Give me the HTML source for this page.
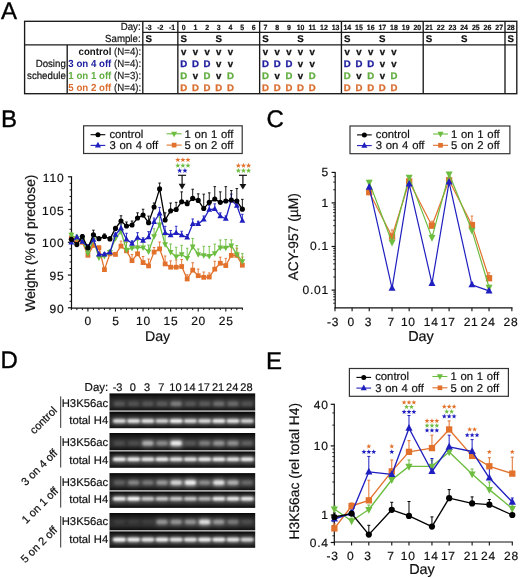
<!DOCTYPE html>
<html><head><meta charset="utf-8"><style>
html,body{margin:0;padding:0;background:#fff;}
svg{display:block;filter:blur(0.35px);}
</style></head><body>
<svg text-rendering="geometricPrecision" width="520" height="578" viewBox="0 0 520 578" font-family='"Liberation Sans", sans-serif'>
<rect width="520" height="578" fill="#fff"/>
<text x="0.9" y="18.5" font-size="24" fill="#000" stroke="#000" stroke-width="0.35">A</text>
<text x="1" y="127.1" font-size="24" fill="#000" stroke="#000" stroke-width="0.35">B</text>
<text x="266.4" y="126.9" font-size="24" fill="#000" stroke="#000" stroke-width="0.35">C</text>
<text x="0.6" y="368" font-size="24" fill="#000" stroke="#000" stroke-width="0.35">D</text>
<text x="266.1" y="368.5" font-size="24" fill="#000" stroke="#000" stroke-width="0.35">E</text>
<rect x="24.6" y="21.3" width="492.2" height="72.4" fill="none" stroke="#1a1a1a" stroke-width="1.35"/>
<line x1="24.6" y1="44.9" x2="516.8" y2="44.9" stroke="#1a1a1a" stroke-width="1.35"/>
<line x1="142.8" y1="32.3" x2="516.8" y2="32.3" stroke="#1a1a1a" stroke-width="1.35"/>
<line x1="67.2" y1="44.9" x2="67.2" y2="93.7" stroke="#1a1a1a" stroke-width="1.35"/>
<line x1="142.8" y1="21.3" x2="142.8" y2="93.7" stroke="#1a1a1a" stroke-width="1.35"/>
<line x1="177.85" y1="21.3" x2="177.85" y2="93.7" stroke="#1a1a1a" stroke-width="1.35"/>
<line x1="259.64" y1="21.3" x2="259.64" y2="93.7" stroke="#1a1a1a" stroke-width="1.35"/>
<line x1="341.43" y1="21.3" x2="341.43" y2="93.7" stroke="#1a1a1a" stroke-width="1.35"/>
<line x1="423.21" y1="21.3" x2="423.21" y2="93.7" stroke="#1a1a1a" stroke-width="1.35"/>
<line x1="505" y1="21.3" x2="505" y2="93.7" stroke="#1a1a1a" stroke-width="1.35"/>
<text transform="translate(148.64,29.9) scale(0.93,1)" font-size="7.5" text-anchor="middle" font-weight="bold" fill="#111" stroke="#111" stroke-width="0.2">-3</text>
<text transform="translate(160.33,29.9) scale(0.93,1)" font-size="7.5" text-anchor="middle" font-weight="bold" fill="#111" stroke="#111" stroke-width="0.2">-2</text>
<text transform="translate(172.01,29.9) scale(0.93,1)" font-size="7.5" text-anchor="middle" font-weight="bold" fill="#111" stroke="#111" stroke-width="0.2">-1</text>
<text transform="translate(183.69,29.9) scale(0.93,1)" font-size="7.5" text-anchor="middle" font-weight="bold" fill="#111" stroke="#111" stroke-width="0.2">0</text>
<text transform="translate(195.38,29.9) scale(0.93,1)" font-size="7.5" text-anchor="middle" font-weight="bold" fill="#111" stroke="#111" stroke-width="0.2">1</text>
<text transform="translate(207.06,29.9) scale(0.93,1)" font-size="7.5" text-anchor="middle" font-weight="bold" fill="#111" stroke="#111" stroke-width="0.2">2</text>
<text transform="translate(218.75,29.9) scale(0.93,1)" font-size="7.5" text-anchor="middle" font-weight="bold" fill="#111" stroke="#111" stroke-width="0.2">3</text>
<text transform="translate(230.43,29.9) scale(0.93,1)" font-size="7.5" text-anchor="middle" font-weight="bold" fill="#111" stroke="#111" stroke-width="0.2">4</text>
<text transform="translate(242.11,29.9) scale(0.93,1)" font-size="7.5" text-anchor="middle" font-weight="bold" fill="#111" stroke="#111" stroke-width="0.2">5</text>
<text transform="translate(253.8,29.9) scale(0.93,1)" font-size="7.5" text-anchor="middle" font-weight="bold" fill="#111" stroke="#111" stroke-width="0.2">6</text>
<text transform="translate(265.48,29.9) scale(0.93,1)" font-size="7.5" text-anchor="middle" font-weight="bold" fill="#111" stroke="#111" stroke-width="0.2">7</text>
<text transform="translate(277.16,29.9) scale(0.93,1)" font-size="7.5" text-anchor="middle" font-weight="bold" fill="#111" stroke="#111" stroke-width="0.2">8</text>
<text transform="translate(288.85,29.9) scale(0.93,1)" font-size="7.5" text-anchor="middle" font-weight="bold" fill="#111" stroke="#111" stroke-width="0.2">9</text>
<text transform="translate(300.53,29.9) scale(0.93,1)" font-size="7.5" text-anchor="middle" font-weight="bold" fill="#111" stroke="#111" stroke-width="0.2">10</text>
<text transform="translate(312.22,29.9) scale(0.93,1)" font-size="7.5" text-anchor="middle" font-weight="bold" fill="#111" stroke="#111" stroke-width="0.2">11</text>
<text transform="translate(323.9,29.9) scale(0.93,1)" font-size="7.5" text-anchor="middle" font-weight="bold" fill="#111" stroke="#111" stroke-width="0.2">12</text>
<text transform="translate(335.58,29.9) scale(0.93,1)" font-size="7.5" text-anchor="middle" font-weight="bold" fill="#111" stroke="#111" stroke-width="0.2">13</text>
<text transform="translate(347.27,29.9) scale(0.93,1)" font-size="7.5" text-anchor="middle" font-weight="bold" fill="#111" stroke="#111" stroke-width="0.2">14</text>
<text transform="translate(358.95,29.9) scale(0.93,1)" font-size="7.5" text-anchor="middle" font-weight="bold" fill="#111" stroke="#111" stroke-width="0.2">15</text>
<text transform="translate(370.64,29.9) scale(0.93,1)" font-size="7.5" text-anchor="middle" font-weight="bold" fill="#111" stroke="#111" stroke-width="0.2">16</text>
<text transform="translate(382.32,29.9) scale(0.93,1)" font-size="7.5" text-anchor="middle" font-weight="bold" fill="#111" stroke="#111" stroke-width="0.2">17</text>
<text transform="translate(394,29.9) scale(0.93,1)" font-size="7.5" text-anchor="middle" font-weight="bold" fill="#111" stroke="#111" stroke-width="0.2">18</text>
<text transform="translate(405.69,29.9) scale(0.93,1)" font-size="7.5" text-anchor="middle" font-weight="bold" fill="#111" stroke="#111" stroke-width="0.2">19</text>
<text transform="translate(417.37,29.9) scale(0.93,1)" font-size="7.5" text-anchor="middle" font-weight="bold" fill="#111" stroke="#111" stroke-width="0.2">20</text>
<text transform="translate(429.05,29.9) scale(0.93,1)" font-size="7.5" text-anchor="middle" font-weight="bold" fill="#111" stroke="#111" stroke-width="0.2">21</text>
<text transform="translate(440.74,29.9) scale(0.93,1)" font-size="7.5" text-anchor="middle" font-weight="bold" fill="#111" stroke="#111" stroke-width="0.2">22</text>
<text transform="translate(452.42,29.9) scale(0.93,1)" font-size="7.5" text-anchor="middle" font-weight="bold" fill="#111" stroke="#111" stroke-width="0.2">23</text>
<text transform="translate(464.11,29.9) scale(0.93,1)" font-size="7.5" text-anchor="middle" font-weight="bold" fill="#111" stroke="#111" stroke-width="0.2">24</text>
<text transform="translate(475.79,29.9) scale(0.93,1)" font-size="7.5" text-anchor="middle" font-weight="bold" fill="#111" stroke="#111" stroke-width="0.2">25</text>
<text transform="translate(487.47,29.9) scale(0.93,1)" font-size="7.5" text-anchor="middle" font-weight="bold" fill="#111" stroke="#111" stroke-width="0.2">26</text>
<text transform="translate(499.16,29.9) scale(0.93,1)" font-size="7.5" text-anchor="middle" font-weight="bold" fill="#111" stroke="#111" stroke-width="0.2">27</text>
<text transform="translate(510.84,29.9) scale(0.93,1)" font-size="7.5" text-anchor="middle" font-weight="bold" fill="#111" stroke="#111" stroke-width="0.2">28</text>
<text x="148.64" y="42.4" font-size="9.7" text-anchor="middle" font-weight="bold" fill="#111" stroke="#111" stroke-width="0.25">S</text>
<text x="183.69" y="42.4" font-size="9.7" text-anchor="middle" font-weight="bold" fill="#111" stroke="#111" stroke-width="0.25">S</text>
<text x="218.75" y="42.4" font-size="9.7" text-anchor="middle" font-weight="bold" fill="#111" stroke="#111" stroke-width="0.25">S</text>
<text x="265.48" y="42.4" font-size="9.7" text-anchor="middle" font-weight="bold" fill="#111" stroke="#111" stroke-width="0.25">S</text>
<text x="300.53" y="42.4" font-size="9.7" text-anchor="middle" font-weight="bold" fill="#111" stroke="#111" stroke-width="0.25">S</text>
<text x="347.27" y="42.4" font-size="9.7" text-anchor="middle" font-weight="bold" fill="#111" stroke="#111" stroke-width="0.25">S</text>
<text x="382.32" y="42.4" font-size="9.7" text-anchor="middle" font-weight="bold" fill="#111" stroke="#111" stroke-width="0.25">S</text>
<text x="429.05" y="42.4" font-size="9.7" text-anchor="middle" font-weight="bold" fill="#111" stroke="#111" stroke-width="0.25">S</text>
<text x="464.11" y="42.4" font-size="9.7" text-anchor="middle" font-weight="bold" fill="#111" stroke="#111" stroke-width="0.25">S</text>
<text x="510.84" y="42.4" font-size="9.7" text-anchor="middle" font-weight="bold" fill="#111" stroke="#111" stroke-width="0.25">S</text>
<text transform="translate(140.6,30.2) scale(0.94,1)" font-size="10.3" text-anchor="end" fill="#111"  stroke="#111" stroke-width="0.2">Day:</text>
<text transform="translate(140.6,42.3) scale(0.94,1)" font-size="10.3" text-anchor="end" fill="#111"  stroke="#111" stroke-width="0.2">Sample:</text>
<text transform="translate(65.8,67) scale(0.94,1)" font-size="10.3" text-anchor="end" fill="#111"  stroke="#111" stroke-width="0.2">Dosing</text>
<text transform="translate(65.8,78.6) scale(0.94,1)" font-size="10.3" text-anchor="end" fill="#111"  stroke="#111" stroke-width="0.2">schedule</text>
<text transform="translate(141.2,55.1) scale(0.94,1)" font-size="10.3" text-anchor="end" fill="#222" stroke="#222" stroke-width="0.2"><tspan font-weight="bold" fill="#111" stroke="none">control</tspan> (N=4):</text>
<text transform="translate(141.2,66.8) scale(0.94,1)" font-size="10.3" text-anchor="end" fill="#222" stroke="#222" stroke-width="0.2"><tspan font-weight="bold" fill="#2020a0" stroke="none">3 on 4 off</tspan> (N=4):</text>
<text transform="translate(141.2,78.6) scale(0.94,1)" font-size="10.3" text-anchor="end" fill="#222" stroke="#222" stroke-width="0.2"><tspan font-weight="bold" fill="#62ad40" stroke="none">1 on 1 off</tspan> (N=3):</text>
<text transform="translate(141.2,90.5) scale(0.94,1)" font-size="10.3" text-anchor="end" fill="#222" stroke="#222" stroke-width="0.2"><tspan font-weight="bold" fill="#da6e30" stroke="none">5 on 2 off</tspan> (N=4):</text>
<text x="183.69" y="55.3" font-size="9.6" text-anchor="middle" font-weight="bold" fill="#111" stroke="#111" stroke-width="0.3">v</text>
<text x="195.38" y="55.3" font-size="9.6" text-anchor="middle" font-weight="bold" fill="#111" stroke="#111" stroke-width="0.3">v</text>
<text x="207.06" y="55.3" font-size="9.6" text-anchor="middle" font-weight="bold" fill="#111" stroke="#111" stroke-width="0.3">v</text>
<text x="218.75" y="55.3" font-size="9.6" text-anchor="middle" font-weight="bold" fill="#111" stroke="#111" stroke-width="0.3">v</text>
<text x="230.43" y="55.3" font-size="9.6" text-anchor="middle" font-weight="bold" fill="#111" stroke="#111" stroke-width="0.3">v</text>
<text x="265.48" y="55.3" font-size="9.6" text-anchor="middle" font-weight="bold" fill="#111" stroke="#111" stroke-width="0.3">v</text>
<text x="277.16" y="55.3" font-size="9.6" text-anchor="middle" font-weight="bold" fill="#111" stroke="#111" stroke-width="0.3">v</text>
<text x="288.85" y="55.3" font-size="9.6" text-anchor="middle" font-weight="bold" fill="#111" stroke="#111" stroke-width="0.3">v</text>
<text x="300.53" y="55.3" font-size="9.6" text-anchor="middle" font-weight="bold" fill="#111" stroke="#111" stroke-width="0.3">v</text>
<text x="312.22" y="55.3" font-size="9.6" text-anchor="middle" font-weight="bold" fill="#111" stroke="#111" stroke-width="0.3">v</text>
<text x="347.27" y="55.3" font-size="9.6" text-anchor="middle" font-weight="bold" fill="#111" stroke="#111" stroke-width="0.3">v</text>
<text x="358.95" y="55.3" font-size="9.6" text-anchor="middle" font-weight="bold" fill="#111" stroke="#111" stroke-width="0.3">v</text>
<text x="370.64" y="55.3" font-size="9.6" text-anchor="middle" font-weight="bold" fill="#111" stroke="#111" stroke-width="0.3">v</text>
<text x="382.32" y="55.3" font-size="9.6" text-anchor="middle" font-weight="bold" fill="#111" stroke="#111" stroke-width="0.3">v</text>
<text x="394" y="55.3" font-size="9.6" text-anchor="middle" font-weight="bold" fill="#111" stroke="#111" stroke-width="0.3">v</text>
<text x="183.69" y="67" font-size="9.6" text-anchor="middle" font-weight="bold" fill="#2020a0" stroke="#2020a0" stroke-width="0.3">D</text>
<text x="195.38" y="67" font-size="9.6" text-anchor="middle" font-weight="bold" fill="#2020a0" stroke="#2020a0" stroke-width="0.3">D</text>
<text x="207.06" y="67" font-size="9.6" text-anchor="middle" font-weight="bold" fill="#2020a0" stroke="#2020a0" stroke-width="0.3">D</text>
<text x="218.75" y="67" font-size="9.6" text-anchor="middle" font-weight="bold" fill="#111" stroke="#111" stroke-width="0.3">v</text>
<text x="230.43" y="67" font-size="9.6" text-anchor="middle" font-weight="bold" fill="#111" stroke="#111" stroke-width="0.3">v</text>
<text x="265.48" y="67" font-size="9.6" text-anchor="middle" font-weight="bold" fill="#2020a0" stroke="#2020a0" stroke-width="0.3">D</text>
<text x="277.16" y="67" font-size="9.6" text-anchor="middle" font-weight="bold" fill="#2020a0" stroke="#2020a0" stroke-width="0.3">D</text>
<text x="288.85" y="67" font-size="9.6" text-anchor="middle" font-weight="bold" fill="#2020a0" stroke="#2020a0" stroke-width="0.3">D</text>
<text x="300.53" y="67" font-size="9.6" text-anchor="middle" font-weight="bold" fill="#111" stroke="#111" stroke-width="0.3">v</text>
<text x="312.22" y="67" font-size="9.6" text-anchor="middle" font-weight="bold" fill="#111" stroke="#111" stroke-width="0.3">v</text>
<text x="347.27" y="67" font-size="9.6" text-anchor="middle" font-weight="bold" fill="#2020a0" stroke="#2020a0" stroke-width="0.3">D</text>
<text x="358.95" y="67" font-size="9.6" text-anchor="middle" font-weight="bold" fill="#2020a0" stroke="#2020a0" stroke-width="0.3">D</text>
<text x="370.64" y="67" font-size="9.6" text-anchor="middle" font-weight="bold" fill="#2020a0" stroke="#2020a0" stroke-width="0.3">D</text>
<text x="382.32" y="67" font-size="9.6" text-anchor="middle" font-weight="bold" fill="#111" stroke="#111" stroke-width="0.3">v</text>
<text x="394" y="67" font-size="9.6" text-anchor="middle" font-weight="bold" fill="#111" stroke="#111" stroke-width="0.3">v</text>
<text x="183.69" y="78.8" font-size="9.6" text-anchor="middle" font-weight="bold" fill="#62ad40" stroke="#62ad40" stroke-width="0.3">D</text>
<text x="195.38" y="78.8" font-size="9.6" text-anchor="middle" font-weight="bold" fill="#111" stroke="#111" stroke-width="0.3">v</text>
<text x="207.06" y="78.8" font-size="9.6" text-anchor="middle" font-weight="bold" fill="#62ad40" stroke="#62ad40" stroke-width="0.3">D</text>
<text x="218.75" y="78.8" font-size="9.6" text-anchor="middle" font-weight="bold" fill="#111" stroke="#111" stroke-width="0.3">v</text>
<text x="230.43" y="78.8" font-size="9.6" text-anchor="middle" font-weight="bold" fill="#62ad40" stroke="#62ad40" stroke-width="0.3">D</text>
<text x="265.48" y="78.8" font-size="9.6" text-anchor="middle" font-weight="bold" fill="#62ad40" stroke="#62ad40" stroke-width="0.3">D</text>
<text x="277.16" y="78.8" font-size="9.6" text-anchor="middle" font-weight="bold" fill="#111" stroke="#111" stroke-width="0.3">v</text>
<text x="288.85" y="78.8" font-size="9.6" text-anchor="middle" font-weight="bold" fill="#62ad40" stroke="#62ad40" stroke-width="0.3">D</text>
<text x="300.53" y="78.8" font-size="9.6" text-anchor="middle" font-weight="bold" fill="#111" stroke="#111" stroke-width="0.3">v</text>
<text x="312.22" y="78.8" font-size="9.6" text-anchor="middle" font-weight="bold" fill="#62ad40" stroke="#62ad40" stroke-width="0.3">D</text>
<text x="347.27" y="78.8" font-size="9.6" text-anchor="middle" font-weight="bold" fill="#62ad40" stroke="#62ad40" stroke-width="0.3">D</text>
<text x="358.95" y="78.8" font-size="9.6" text-anchor="middle" font-weight="bold" fill="#111" stroke="#111" stroke-width="0.3">v</text>
<text x="370.64" y="78.8" font-size="9.6" text-anchor="middle" font-weight="bold" fill="#62ad40" stroke="#62ad40" stroke-width="0.3">D</text>
<text x="382.32" y="78.8" font-size="9.6" text-anchor="middle" font-weight="bold" fill="#111" stroke="#111" stroke-width="0.3">v</text>
<text x="394" y="78.8" font-size="9.6" text-anchor="middle" font-weight="bold" fill="#62ad40" stroke="#62ad40" stroke-width="0.3">D</text>
<text x="183.69" y="90.7" font-size="9.6" text-anchor="middle" font-weight="bold" fill="#da6e30" stroke="#da6e30" stroke-width="0.3">D</text>
<text x="195.38" y="90.7" font-size="9.6" text-anchor="middle" font-weight="bold" fill="#da6e30" stroke="#da6e30" stroke-width="0.3">D</text>
<text x="207.06" y="90.7" font-size="9.6" text-anchor="middle" font-weight="bold" fill="#da6e30" stroke="#da6e30" stroke-width="0.3">D</text>
<text x="218.75" y="90.7" font-size="9.6" text-anchor="middle" font-weight="bold" fill="#da6e30" stroke="#da6e30" stroke-width="0.3">D</text>
<text x="230.43" y="90.7" font-size="9.6" text-anchor="middle" font-weight="bold" fill="#da6e30" stroke="#da6e30" stroke-width="0.3">D</text>
<text x="265.48" y="90.7" font-size="9.6" text-anchor="middle" font-weight="bold" fill="#da6e30" stroke="#da6e30" stroke-width="0.3">D</text>
<text x="277.16" y="90.7" font-size="9.6" text-anchor="middle" font-weight="bold" fill="#da6e30" stroke="#da6e30" stroke-width="0.3">D</text>
<text x="288.85" y="90.7" font-size="9.6" text-anchor="middle" font-weight="bold" fill="#da6e30" stroke="#da6e30" stroke-width="0.3">D</text>
<text x="300.53" y="90.7" font-size="9.6" text-anchor="middle" font-weight="bold" fill="#da6e30" stroke="#da6e30" stroke-width="0.3">D</text>
<text x="312.22" y="90.7" font-size="9.6" text-anchor="middle" font-weight="bold" fill="#da6e30" stroke="#da6e30" stroke-width="0.3">D</text>
<text x="347.27" y="90.7" font-size="9.6" text-anchor="middle" font-weight="bold" fill="#da6e30" stroke="#da6e30" stroke-width="0.3">D</text>
<text x="358.95" y="90.7" font-size="9.6" text-anchor="middle" font-weight="bold" fill="#da6e30" stroke="#da6e30" stroke-width="0.3">D</text>
<text x="370.64" y="90.7" font-size="9.6" text-anchor="middle" font-weight="bold" fill="#da6e30" stroke="#da6e30" stroke-width="0.3">D</text>
<text x="382.32" y="90.7" font-size="9.6" text-anchor="middle" font-weight="bold" fill="#da6e30" stroke="#da6e30" stroke-width="0.3">D</text>
<text x="394" y="90.7" font-size="9.6" text-anchor="middle" font-weight="bold" fill="#da6e30" stroke="#da6e30" stroke-width="0.3">D</text>
<line x1="71.5" y1="176.3" x2="71.5" y2="308.6" stroke="#111" stroke-width="1.2"/>
<line x1="70.9" y1="308.1" x2="242.9" y2="308.1" stroke="#111" stroke-width="1.2"/>
<line x1="67.9" y1="307.8" x2="71.5" y2="307.8" stroke="#111" stroke-width="1.2"/>
<text x="64.4" y="312.9" font-size="12" text-anchor="end" fill="#111" letter-spacing="0.8" stroke="#111" stroke-width="0.2">90</text>
<line x1="69.6" y1="301.25" x2="71.5" y2="301.25" stroke="#111" stroke-width="1.0"/>
<line x1="69.6" y1="294.7" x2="71.5" y2="294.7" stroke="#111" stroke-width="1.0"/>
<line x1="69.6" y1="288.15" x2="71.5" y2="288.15" stroke="#111" stroke-width="1.0"/>
<line x1="69.6" y1="281.6" x2="71.5" y2="281.6" stroke="#111" stroke-width="1.0"/>
<line x1="67.9" y1="275.05" x2="71.5" y2="275.05" stroke="#111" stroke-width="1.2"/>
<text x="64.4" y="280.15" font-size="12" text-anchor="end" fill="#111" letter-spacing="0.8" stroke="#111" stroke-width="0.2">95</text>
<line x1="69.6" y1="268.5" x2="71.5" y2="268.5" stroke="#111" stroke-width="1.0"/>
<line x1="69.6" y1="261.95" x2="71.5" y2="261.95" stroke="#111" stroke-width="1.0"/>
<line x1="69.6" y1="255.4" x2="71.5" y2="255.4" stroke="#111" stroke-width="1.0"/>
<line x1="69.6" y1="248.85" x2="71.5" y2="248.85" stroke="#111" stroke-width="1.0"/>
<line x1="67.9" y1="242.3" x2="71.5" y2="242.3" stroke="#111" stroke-width="1.2"/>
<text x="64.4" y="247.4" font-size="12" text-anchor="end" fill="#111" letter-spacing="0.8" stroke="#111" stroke-width="0.2">100</text>
<line x1="69.6" y1="235.75" x2="71.5" y2="235.75" stroke="#111" stroke-width="1.0"/>
<line x1="69.6" y1="229.2" x2="71.5" y2="229.2" stroke="#111" stroke-width="1.0"/>
<line x1="69.6" y1="222.65" x2="71.5" y2="222.65" stroke="#111" stroke-width="1.0"/>
<line x1="69.6" y1="216.1" x2="71.5" y2="216.1" stroke="#111" stroke-width="1.0"/>
<line x1="67.9" y1="209.55" x2="71.5" y2="209.55" stroke="#111" stroke-width="1.2"/>
<text x="64.4" y="214.65" font-size="12" text-anchor="end" fill="#111" letter-spacing="0.8" stroke="#111" stroke-width="0.2">105</text>
<line x1="69.6" y1="203" x2="71.5" y2="203" stroke="#111" stroke-width="1.0"/>
<line x1="69.6" y1="196.45" x2="71.5" y2="196.45" stroke="#111" stroke-width="1.0"/>
<line x1="69.6" y1="189.9" x2="71.5" y2="189.9" stroke="#111" stroke-width="1.0"/>
<line x1="69.6" y1="183.35" x2="71.5" y2="183.35" stroke="#111" stroke-width="1.0"/>
<line x1="67.9" y1="176.8" x2="71.5" y2="176.8" stroke="#111" stroke-width="1.2"/>
<text x="64.4" y="181.9" font-size="12" text-anchor="end" fill="#111" letter-spacing="0.8" stroke="#111" stroke-width="0.2">110</text>
<line x1="71.35" y1="308.1" x2="71.35" y2="310.1" stroke="#111" stroke-width="1.0"/>
<line x1="76.87" y1="308.1" x2="76.87" y2="310.1" stroke="#111" stroke-width="1.0"/>
<line x1="82.38" y1="308.1" x2="82.38" y2="310.1" stroke="#111" stroke-width="1.0"/>
<line x1="87.9" y1="308.1" x2="87.9" y2="311.6" stroke="#111" stroke-width="1.1"/>
<text x="88.3" y="324.6" font-size="12" text-anchor="middle" fill="#111" letter-spacing="0.8" stroke="#111" stroke-width="0.2">0</text>
<line x1="93.42" y1="308.1" x2="93.42" y2="310.1" stroke="#111" stroke-width="1.0"/>
<line x1="98.93" y1="308.1" x2="98.93" y2="310.1" stroke="#111" stroke-width="1.0"/>
<line x1="104.45" y1="308.1" x2="104.45" y2="310.1" stroke="#111" stroke-width="1.0"/>
<line x1="109.96" y1="308.1" x2="109.96" y2="310.1" stroke="#111" stroke-width="1.0"/>
<line x1="115.48" y1="308.1" x2="115.48" y2="311.6" stroke="#111" stroke-width="1.1"/>
<text x="115.88" y="324.6" font-size="12" text-anchor="middle" fill="#111" letter-spacing="0.8" stroke="#111" stroke-width="0.2">5</text>
<line x1="121" y1="308.1" x2="121" y2="310.1" stroke="#111" stroke-width="1.0"/>
<line x1="126.51" y1="308.1" x2="126.51" y2="310.1" stroke="#111" stroke-width="1.0"/>
<line x1="132.03" y1="308.1" x2="132.03" y2="310.1" stroke="#111" stroke-width="1.0"/>
<line x1="137.54" y1="308.1" x2="137.54" y2="310.1" stroke="#111" stroke-width="1.0"/>
<line x1="143.06" y1="308.1" x2="143.06" y2="311.6" stroke="#111" stroke-width="1.1"/>
<text x="143.46" y="324.6" font-size="12" text-anchor="middle" fill="#111" letter-spacing="0.8" stroke="#111" stroke-width="0.2">10</text>
<line x1="148.58" y1="308.1" x2="148.58" y2="310.1" stroke="#111" stroke-width="1.0"/>
<line x1="154.09" y1="308.1" x2="154.09" y2="310.1" stroke="#111" stroke-width="1.0"/>
<line x1="159.61" y1="308.1" x2="159.61" y2="310.1" stroke="#111" stroke-width="1.0"/>
<line x1="165.12" y1="308.1" x2="165.12" y2="310.1" stroke="#111" stroke-width="1.0"/>
<line x1="170.64" y1="308.1" x2="170.64" y2="311.6" stroke="#111" stroke-width="1.1"/>
<text x="171.04" y="324.6" font-size="12" text-anchor="middle" fill="#111" letter-spacing="0.8" stroke="#111" stroke-width="0.2">15</text>
<line x1="176.16" y1="308.1" x2="176.16" y2="310.1" stroke="#111" stroke-width="1.0"/>
<line x1="181.67" y1="308.1" x2="181.67" y2="310.1" stroke="#111" stroke-width="1.0"/>
<line x1="187.19" y1="308.1" x2="187.19" y2="310.1" stroke="#111" stroke-width="1.0"/>
<line x1="192.7" y1="308.1" x2="192.7" y2="310.1" stroke="#111" stroke-width="1.0"/>
<line x1="198.22" y1="308.1" x2="198.22" y2="311.6" stroke="#111" stroke-width="1.1"/>
<text x="198.62" y="324.6" font-size="12" text-anchor="middle" fill="#111" letter-spacing="0.8" stroke="#111" stroke-width="0.2">20</text>
<line x1="203.74" y1="308.1" x2="203.74" y2="310.1" stroke="#111" stroke-width="1.0"/>
<line x1="209.25" y1="308.1" x2="209.25" y2="310.1" stroke="#111" stroke-width="1.0"/>
<line x1="214.77" y1="308.1" x2="214.77" y2="310.1" stroke="#111" stroke-width="1.0"/>
<line x1="220.28" y1="308.1" x2="220.28" y2="310.1" stroke="#111" stroke-width="1.0"/>
<line x1="225.8" y1="308.1" x2="225.8" y2="311.6" stroke="#111" stroke-width="1.1"/>
<text x="226.2" y="324.6" font-size="12" text-anchor="middle" fill="#111" letter-spacing="0.8" stroke="#111" stroke-width="0.2">25</text>
<line x1="231.32" y1="308.1" x2="231.32" y2="310.1" stroke="#111" stroke-width="1.0"/>
<line x1="236.83" y1="308.1" x2="236.83" y2="310.1" stroke="#111" stroke-width="1.0"/>
<line x1="242.35" y1="308.1" x2="242.35" y2="310.1" stroke="#111" stroke-width="1.0"/>
<text x="157.6" y="341" font-size="14.2" text-anchor="middle" fill="#111"  stroke="#111" stroke-width="0.2">Day</text>
<text transform="translate(34.8,243.1) rotate(-90)" font-size="13.8" text-anchor="middle" fill="#111" stroke="#111" stroke-width="0.2">Weight (% of predose)</text>
<line x1="71.35" y1="238.37" x2="71.35" y2="236.36" stroke="#e2712c" stroke-width="0.9"/>
<line x1="70.05" y1="236.36" x2="72.65" y2="236.36" stroke="#e2712c" stroke-width="0.9"/>
<line x1="76.87" y1="240.34" x2="76.87" y2="237.76" stroke="#e2712c" stroke-width="0.9"/>
<line x1="75.57" y1="237.76" x2="78.17" y2="237.76" stroke="#e2712c" stroke-width="0.9"/>
<line x1="82.38" y1="242.3" x2="82.38" y2="240.05" stroke="#e2712c" stroke-width="0.9"/>
<line x1="81.08" y1="240.05" x2="83.68" y2="240.05" stroke="#e2712c" stroke-width="0.9"/>
<line x1="87.9" y1="255.27" x2="87.9" y2="252.59" stroke="#e2712c" stroke-width="0.9"/>
<line x1="86.6" y1="252.59" x2="89.2" y2="252.59" stroke="#e2712c" stroke-width="0.9"/>
<line x1="93.42" y1="245.44" x2="93.42" y2="242.72" stroke="#e2712c" stroke-width="0.9"/>
<line x1="92.12" y1="242.72" x2="94.72" y2="242.72" stroke="#e2712c" stroke-width="0.9"/>
<line x1="98.93" y1="247.74" x2="98.93" y2="246.04" stroke="#e2712c" stroke-width="0.9"/>
<line x1="97.63" y1="246.04" x2="100.23" y2="246.04" stroke="#e2712c" stroke-width="0.9"/>
<line x1="104.45" y1="269.61" x2="104.45" y2="268.02" stroke="#e2712c" stroke-width="0.9"/>
<line x1="103.15" y1="268.02" x2="105.75" y2="268.02" stroke="#e2712c" stroke-width="0.9"/>
<line x1="109.96" y1="253.76" x2="109.96" y2="250.65" stroke="#e2712c" stroke-width="0.9"/>
<line x1="108.66" y1="250.65" x2="111.26" y2="250.65" stroke="#e2712c" stroke-width="0.9"/>
<line x1="115.48" y1="254.42" x2="115.48" y2="252.37" stroke="#e2712c" stroke-width="0.9"/>
<line x1="114.18" y1="252.37" x2="116.78" y2="252.37" stroke="#e2712c" stroke-width="0.9"/>
<line x1="121" y1="246.1" x2="121" y2="241.09" stroke="#e2712c" stroke-width="0.9"/>
<line x1="119.7" y1="241.09" x2="122.3" y2="241.09" stroke="#e2712c" stroke-width="0.9"/>
<line x1="126.51" y1="250.81" x2="126.51" y2="242.32" stroke="#e2712c" stroke-width="0.9"/>
<line x1="125.21" y1="242.32" x2="127.81" y2="242.32" stroke="#e2712c" stroke-width="0.9"/>
<line x1="132.03" y1="260.64" x2="132.03" y2="254.55" stroke="#e2712c" stroke-width="0.9"/>
<line x1="130.73" y1="254.55" x2="133.33" y2="254.55" stroke="#e2712c" stroke-width="0.9"/>
<line x1="137.54" y1="253.76" x2="137.54" y2="246" stroke="#e2712c" stroke-width="0.9"/>
<line x1="136.24" y1="246" x2="138.84" y2="246" stroke="#e2712c" stroke-width="0.9"/>
<line x1="143.06" y1="262.6" x2="143.06" y2="256.49" stroke="#e2712c" stroke-width="0.9"/>
<line x1="141.76" y1="256.49" x2="144.36" y2="256.49" stroke="#e2712c" stroke-width="0.9"/>
<line x1="148.58" y1="265.88" x2="148.58" y2="259.02" stroke="#e2712c" stroke-width="0.9"/>
<line x1="147.28" y1="259.02" x2="149.88" y2="259.02" stroke="#e2712c" stroke-width="0.9"/>
<line x1="154.09" y1="252.12" x2="154.09" y2="247.5" stroke="#e2712c" stroke-width="0.9"/>
<line x1="152.79" y1="247.5" x2="155.39" y2="247.5" stroke="#e2712c" stroke-width="0.9"/>
<line x1="159.61" y1="248.85" x2="159.61" y2="242.01" stroke="#e2712c" stroke-width="0.9"/>
<line x1="158.31" y1="242.01" x2="160.91" y2="242.01" stroke="#e2712c" stroke-width="0.9"/>
<line x1="165.12" y1="263.91" x2="165.12" y2="256.01" stroke="#e2712c" stroke-width="0.9"/>
<line x1="163.82" y1="256.01" x2="166.42" y2="256.01" stroke="#e2712c" stroke-width="0.9"/>
<line x1="170.64" y1="267.19" x2="170.64" y2="260.86" stroke="#e2712c" stroke-width="0.9"/>
<line x1="169.34" y1="260.86" x2="171.94" y2="260.86" stroke="#e2712c" stroke-width="0.9"/>
<line x1="176.16" y1="267.19" x2="176.16" y2="259.86" stroke="#e2712c" stroke-width="0.9"/>
<line x1="174.86" y1="259.86" x2="177.46" y2="259.86" stroke="#e2712c" stroke-width="0.9"/>
<line x1="181.67" y1="266.54" x2="181.67" y2="259.53" stroke="#e2712c" stroke-width="0.9"/>
<line x1="180.37" y1="259.53" x2="182.97" y2="259.53" stroke="#e2712c" stroke-width="0.9"/>
<line x1="187.19" y1="278.98" x2="187.19" y2="274.76" stroke="#e2712c" stroke-width="0.9"/>
<line x1="185.89" y1="274.76" x2="188.49" y2="274.76" stroke="#e2712c" stroke-width="0.9"/>
<line x1="192.7" y1="270.14" x2="192.7" y2="262.73" stroke="#e2712c" stroke-width="0.9"/>
<line x1="191.4" y1="262.73" x2="194" y2="262.73" stroke="#e2712c" stroke-width="0.9"/>
<line x1="198.22" y1="275.7" x2="198.22" y2="269.06" stroke="#e2712c" stroke-width="0.9"/>
<line x1="196.92" y1="269.06" x2="199.52" y2="269.06" stroke="#e2712c" stroke-width="0.9"/>
<line x1="203.74" y1="277.34" x2="203.74" y2="272.03" stroke="#e2712c" stroke-width="0.9"/>
<line x1="202.44" y1="272.03" x2="205.04" y2="272.03" stroke="#e2712c" stroke-width="0.9"/>
<line x1="209.25" y1="277.01" x2="209.25" y2="272.94" stroke="#e2712c" stroke-width="0.9"/>
<line x1="207.95" y1="272.94" x2="210.55" y2="272.94" stroke="#e2712c" stroke-width="0.9"/>
<line x1="214.77" y1="269.15" x2="214.77" y2="261.26" stroke="#e2712c" stroke-width="0.9"/>
<line x1="213.47" y1="261.26" x2="216.07" y2="261.26" stroke="#e2712c" stroke-width="0.9"/>
<line x1="220.28" y1="263.26" x2="220.28" y2="257.16" stroke="#e2712c" stroke-width="0.9"/>
<line x1="218.98" y1="257.16" x2="221.58" y2="257.16" stroke="#e2712c" stroke-width="0.9"/>
<line x1="225.8" y1="265.55" x2="225.8" y2="258.33" stroke="#e2712c" stroke-width="0.9"/>
<line x1="224.5" y1="258.33" x2="227.1" y2="258.33" stroke="#e2712c" stroke-width="0.9"/>
<line x1="231.32" y1="255.4" x2="231.32" y2="247.44" stroke="#e2712c" stroke-width="0.9"/>
<line x1="230.02" y1="247.44" x2="232.62" y2="247.44" stroke="#e2712c" stroke-width="0.9"/>
<line x1="236.83" y1="255.4" x2="236.83" y2="248.2" stroke="#e2712c" stroke-width="0.9"/>
<line x1="235.53" y1="248.2" x2="238.13" y2="248.2" stroke="#e2712c" stroke-width="0.9"/>
<line x1="242.35" y1="265.23" x2="242.35" y2="257.07" stroke="#e2712c" stroke-width="0.9"/>
<line x1="241.05" y1="257.07" x2="243.65" y2="257.07" stroke="#e2712c" stroke-width="0.9"/>
<line x1="71.35" y1="234.96" x2="71.35" y2="232.3" stroke="#6cbd40" stroke-width="0.9"/>
<line x1="70.05" y1="232.3" x2="72.65" y2="232.3" stroke="#6cbd40" stroke-width="0.9"/>
<line x1="76.87" y1="238.37" x2="76.87" y2="234.86" stroke="#6cbd40" stroke-width="0.9"/>
<line x1="75.57" y1="234.86" x2="78.17" y2="234.86" stroke="#6cbd40" stroke-width="0.9"/>
<line x1="82.38" y1="240.34" x2="82.38" y2="237.57" stroke="#6cbd40" stroke-width="0.9"/>
<line x1="81.08" y1="237.57" x2="83.68" y2="237.57" stroke="#6cbd40" stroke-width="0.9"/>
<line x1="87.9" y1="253.44" x2="87.9" y2="249.64" stroke="#6cbd40" stroke-width="0.9"/>
<line x1="86.6" y1="249.64" x2="89.2" y2="249.64" stroke="#6cbd40" stroke-width="0.9"/>
<line x1="93.42" y1="239.68" x2="93.42" y2="236" stroke="#6cbd40" stroke-width="0.9"/>
<line x1="92.12" y1="236" x2="94.72" y2="236" stroke="#6cbd40" stroke-width="0.9"/>
<line x1="98.93" y1="257.69" x2="98.93" y2="255.65" stroke="#6cbd40" stroke-width="0.9"/>
<line x1="97.63" y1="255.65" x2="100.23" y2="255.65" stroke="#6cbd40" stroke-width="0.9"/>
<line x1="104.45" y1="256.05" x2="104.45" y2="253.94" stroke="#6cbd40" stroke-width="0.9"/>
<line x1="103.15" y1="253.94" x2="105.75" y2="253.94" stroke="#6cbd40" stroke-width="0.9"/>
<line x1="109.96" y1="252.12" x2="109.96" y2="249.84" stroke="#6cbd40" stroke-width="0.9"/>
<line x1="108.66" y1="249.84" x2="111.26" y2="249.84" stroke="#6cbd40" stroke-width="0.9"/>
<line x1="115.48" y1="238.37" x2="115.48" y2="234.51" stroke="#6cbd40" stroke-width="0.9"/>
<line x1="114.18" y1="234.51" x2="116.78" y2="234.51" stroke="#6cbd40" stroke-width="0.9"/>
<line x1="121" y1="231.49" x2="121" y2="224.62" stroke="#6cbd40" stroke-width="0.9"/>
<line x1="119.7" y1="224.62" x2="122.3" y2="224.62" stroke="#6cbd40" stroke-width="0.9"/>
<line x1="126.51" y1="249.83" x2="126.51" y2="241.96" stroke="#6cbd40" stroke-width="0.9"/>
<line x1="125.21" y1="241.96" x2="127.81" y2="241.96" stroke="#6cbd40" stroke-width="0.9"/>
<line x1="132.03" y1="248.2" x2="132.03" y2="242.03" stroke="#6cbd40" stroke-width="0.9"/>
<line x1="130.73" y1="242.03" x2="133.33" y2="242.03" stroke="#6cbd40" stroke-width="0.9"/>
<line x1="137.54" y1="247.54" x2="137.54" y2="240.3" stroke="#6cbd40" stroke-width="0.9"/>
<line x1="136.24" y1="240.3" x2="138.84" y2="240.3" stroke="#6cbd40" stroke-width="0.9"/>
<line x1="143.06" y1="247.54" x2="143.06" y2="240.93" stroke="#6cbd40" stroke-width="0.9"/>
<line x1="141.76" y1="240.93" x2="144.36" y2="240.93" stroke="#6cbd40" stroke-width="0.9"/>
<line x1="148.58" y1="251.47" x2="148.58" y2="245.05" stroke="#6cbd40" stroke-width="0.9"/>
<line x1="147.28" y1="245.05" x2="149.88" y2="245.05" stroke="#6cbd40" stroke-width="0.9"/>
<line x1="154.09" y1="236.4" x2="154.09" y2="228.75" stroke="#6cbd40" stroke-width="0.9"/>
<line x1="152.79" y1="228.75" x2="155.39" y2="228.75" stroke="#6cbd40" stroke-width="0.9"/>
<line x1="159.61" y1="224.62" x2="159.61" y2="216.97" stroke="#6cbd40" stroke-width="0.9"/>
<line x1="158.31" y1="216.97" x2="160.91" y2="216.97" stroke="#6cbd40" stroke-width="0.9"/>
<line x1="165.12" y1="244.26" x2="165.12" y2="234.94" stroke="#6cbd40" stroke-width="0.9"/>
<line x1="163.82" y1="234.94" x2="166.42" y2="234.94" stroke="#6cbd40" stroke-width="0.9"/>
<line x1="170.64" y1="252.12" x2="170.64" y2="243.97" stroke="#6cbd40" stroke-width="0.9"/>
<line x1="169.34" y1="243.97" x2="171.94" y2="243.97" stroke="#6cbd40" stroke-width="0.9"/>
<line x1="176.16" y1="256.71" x2="176.16" y2="247.26" stroke="#6cbd40" stroke-width="0.9"/>
<line x1="174.86" y1="247.26" x2="177.46" y2="247.26" stroke="#6cbd40" stroke-width="0.9"/>
<line x1="181.67" y1="254.42" x2="181.67" y2="245.34" stroke="#6cbd40" stroke-width="0.9"/>
<line x1="180.37" y1="245.34" x2="182.97" y2="245.34" stroke="#6cbd40" stroke-width="0.9"/>
<line x1="187.19" y1="258.02" x2="187.19" y2="248.24" stroke="#6cbd40" stroke-width="0.9"/>
<line x1="185.89" y1="248.24" x2="188.49" y2="248.24" stroke="#6cbd40" stroke-width="0.9"/>
<line x1="192.7" y1="246.56" x2="192.7" y2="238.46" stroke="#6cbd40" stroke-width="0.9"/>
<line x1="191.4" y1="238.46" x2="194" y2="238.46" stroke="#6cbd40" stroke-width="0.9"/>
<line x1="198.22" y1="254.42" x2="198.22" y2="248.98" stroke="#6cbd40" stroke-width="0.9"/>
<line x1="196.92" y1="248.98" x2="199.52" y2="248.98" stroke="#6cbd40" stroke-width="0.9"/>
<line x1="203.74" y1="255.4" x2="203.74" y2="246.31" stroke="#6cbd40" stroke-width="0.9"/>
<line x1="202.44" y1="246.31" x2="205.04" y2="246.31" stroke="#6cbd40" stroke-width="0.9"/>
<line x1="209.25" y1="256.05" x2="209.25" y2="246.42" stroke="#6cbd40" stroke-width="0.9"/>
<line x1="207.95" y1="246.42" x2="210.55" y2="246.42" stroke="#6cbd40" stroke-width="0.9"/>
<line x1="214.77" y1="253.44" x2="214.77" y2="244.11" stroke="#6cbd40" stroke-width="0.9"/>
<line x1="213.47" y1="244.11" x2="216.07" y2="244.11" stroke="#6cbd40" stroke-width="0.9"/>
<line x1="220.28" y1="247.54" x2="220.28" y2="239.97" stroke="#6cbd40" stroke-width="0.9"/>
<line x1="218.98" y1="239.97" x2="221.58" y2="239.97" stroke="#6cbd40" stroke-width="0.9"/>
<line x1="225.8" y1="247.87" x2="225.8" y2="239.54" stroke="#6cbd40" stroke-width="0.9"/>
<line x1="224.5" y1="239.54" x2="227.1" y2="239.54" stroke="#6cbd40" stroke-width="0.9"/>
<line x1="231.32" y1="245.58" x2="231.32" y2="239.88" stroke="#6cbd40" stroke-width="0.9"/>
<line x1="230.02" y1="239.88" x2="232.62" y2="239.88" stroke="#6cbd40" stroke-width="0.9"/>
<line x1="236.83" y1="254.42" x2="236.83" y2="245.47" stroke="#6cbd40" stroke-width="0.9"/>
<line x1="235.53" y1="245.47" x2="238.13" y2="245.47" stroke="#6cbd40" stroke-width="0.9"/>
<line x1="242.35" y1="261.3" x2="242.35" y2="253.7" stroke="#6cbd40" stroke-width="0.9"/>
<line x1="241.05" y1="253.7" x2="243.65" y2="253.7" stroke="#6cbd40" stroke-width="0.9"/>
<line x1="71.35" y1="242.43" x2="71.35" y2="240.94" stroke="#1f1fc0" stroke-width="0.9"/>
<line x1="70.05" y1="240.94" x2="72.65" y2="240.94" stroke="#1f1fc0" stroke-width="0.9"/>
<line x1="76.87" y1="237.19" x2="76.87" y2="236.04" stroke="#1f1fc0" stroke-width="0.9"/>
<line x1="75.57" y1="236.04" x2="78.17" y2="236.04" stroke="#1f1fc0" stroke-width="0.9"/>
<line x1="82.38" y1="241.65" x2="82.38" y2="239.25" stroke="#1f1fc0" stroke-width="0.9"/>
<line x1="81.08" y1="239.25" x2="83.68" y2="239.25" stroke="#1f1fc0" stroke-width="0.9"/>
<line x1="87.9" y1="247.21" x2="87.9" y2="244.61" stroke="#1f1fc0" stroke-width="0.9"/>
<line x1="86.6" y1="244.61" x2="89.2" y2="244.61" stroke="#1f1fc0" stroke-width="0.9"/>
<line x1="93.42" y1="239.68" x2="93.42" y2="238.49" stroke="#1f1fc0" stroke-width="0.9"/>
<line x1="92.12" y1="238.49" x2="94.72" y2="238.49" stroke="#1f1fc0" stroke-width="0.9"/>
<line x1="98.93" y1="254.42" x2="98.93" y2="252.11" stroke="#1f1fc0" stroke-width="0.9"/>
<line x1="97.63" y1="252.11" x2="100.23" y2="252.11" stroke="#1f1fc0" stroke-width="0.9"/>
<line x1="104.45" y1="254.42" x2="104.45" y2="252.72" stroke="#1f1fc0" stroke-width="0.9"/>
<line x1="103.15" y1="252.72" x2="105.75" y2="252.72" stroke="#1f1fc0" stroke-width="0.9"/>
<line x1="109.96" y1="252.45" x2="109.96" y2="251.17" stroke="#1f1fc0" stroke-width="0.9"/>
<line x1="108.66" y1="251.17" x2="111.26" y2="251.17" stroke="#1f1fc0" stroke-width="0.9"/>
<line x1="115.48" y1="234.77" x2="115.48" y2="233.26" stroke="#1f1fc0" stroke-width="0.9"/>
<line x1="114.18" y1="233.26" x2="116.78" y2="233.26" stroke="#1f1fc0" stroke-width="0.9"/>
<line x1="121" y1="228.22" x2="121" y2="222.58" stroke="#1f1fc0" stroke-width="0.9"/>
<line x1="119.7" y1="222.58" x2="122.3" y2="222.58" stroke="#1f1fc0" stroke-width="0.9"/>
<line x1="126.51" y1="239.35" x2="126.51" y2="233.3" stroke="#1f1fc0" stroke-width="0.9"/>
<line x1="125.21" y1="233.3" x2="127.81" y2="233.3" stroke="#1f1fc0" stroke-width="0.9"/>
<line x1="132.03" y1="243.61" x2="132.03" y2="240.82" stroke="#1f1fc0" stroke-width="0.9"/>
<line x1="130.73" y1="240.82" x2="133.33" y2="240.82" stroke="#1f1fc0" stroke-width="0.9"/>
<line x1="137.54" y1="237.72" x2="137.54" y2="232.68" stroke="#1f1fc0" stroke-width="0.9"/>
<line x1="136.24" y1="232.68" x2="138.84" y2="232.68" stroke="#1f1fc0" stroke-width="0.9"/>
<line x1="143.06" y1="240.66" x2="143.06" y2="237.87" stroke="#1f1fc0" stroke-width="0.9"/>
<line x1="141.76" y1="237.87" x2="144.36" y2="237.87" stroke="#1f1fc0" stroke-width="0.9"/>
<line x1="148.58" y1="237.06" x2="148.58" y2="231.62" stroke="#1f1fc0" stroke-width="0.9"/>
<line x1="147.28" y1="231.62" x2="149.88" y2="231.62" stroke="#1f1fc0" stroke-width="0.9"/>
<line x1="154.09" y1="222" x2="154.09" y2="218.07" stroke="#1f1fc0" stroke-width="0.9"/>
<line x1="152.79" y1="218.07" x2="155.39" y2="218.07" stroke="#1f1fc0" stroke-width="0.9"/>
<line x1="159.61" y1="213.48" x2="159.61" y2="207.4" stroke="#1f1fc0" stroke-width="0.9"/>
<line x1="158.31" y1="207.4" x2="160.91" y2="207.4" stroke="#1f1fc0" stroke-width="0.9"/>
<line x1="165.12" y1="232.8" x2="165.12" y2="226.33" stroke="#1f1fc0" stroke-width="0.9"/>
<line x1="163.82" y1="226.33" x2="166.42" y2="226.33" stroke="#1f1fc0" stroke-width="0.9"/>
<line x1="170.64" y1="235.1" x2="170.64" y2="230.49" stroke="#1f1fc0" stroke-width="0.9"/>
<line x1="169.34" y1="230.49" x2="171.94" y2="230.49" stroke="#1f1fc0" stroke-width="0.9"/>
<line x1="176.16" y1="232.8" x2="176.16" y2="226.26" stroke="#1f1fc0" stroke-width="0.9"/>
<line x1="174.86" y1="226.26" x2="177.46" y2="226.26" stroke="#1f1fc0" stroke-width="0.9"/>
<line x1="181.67" y1="235.1" x2="181.67" y2="231.26" stroke="#1f1fc0" stroke-width="0.9"/>
<line x1="180.37" y1="231.26" x2="182.97" y2="231.26" stroke="#1f1fc0" stroke-width="0.9"/>
<line x1="187.19" y1="237.39" x2="187.19" y2="234.47" stroke="#1f1fc0" stroke-width="0.9"/>
<line x1="185.89" y1="234.47" x2="188.49" y2="234.47" stroke="#1f1fc0" stroke-width="0.9"/>
<line x1="192.7" y1="223.96" x2="192.7" y2="218.98" stroke="#1f1fc0" stroke-width="0.9"/>
<line x1="191.4" y1="218.98" x2="194" y2="218.98" stroke="#1f1fc0" stroke-width="0.9"/>
<line x1="198.22" y1="223.96" x2="198.22" y2="221.22" stroke="#1f1fc0" stroke-width="0.9"/>
<line x1="196.92" y1="221.22" x2="199.52" y2="221.22" stroke="#1f1fc0" stroke-width="0.9"/>
<line x1="203.74" y1="219.38" x2="203.74" y2="215.98" stroke="#1f1fc0" stroke-width="0.9"/>
<line x1="202.44" y1="215.98" x2="205.04" y2="215.98" stroke="#1f1fc0" stroke-width="0.9"/>
<line x1="209.25" y1="209.55" x2="209.25" y2="205.33" stroke="#1f1fc0" stroke-width="0.9"/>
<line x1="207.95" y1="205.33" x2="210.55" y2="205.33" stroke="#1f1fc0" stroke-width="0.9"/>
<line x1="214.77" y1="208.9" x2="214.77" y2="203.88" stroke="#1f1fc0" stroke-width="0.9"/>
<line x1="213.47" y1="203.88" x2="216.07" y2="203.88" stroke="#1f1fc0" stroke-width="0.9"/>
<line x1="220.28" y1="216.1" x2="220.28" y2="212.87" stroke="#1f1fc0" stroke-width="0.9"/>
<line x1="218.98" y1="212.87" x2="221.58" y2="212.87" stroke="#1f1fc0" stroke-width="0.9"/>
<line x1="225.8" y1="218.72" x2="225.8" y2="215.93" stroke="#1f1fc0" stroke-width="0.9"/>
<line x1="224.5" y1="215.93" x2="227.1" y2="215.93" stroke="#1f1fc0" stroke-width="0.9"/>
<line x1="231.32" y1="200.05" x2="231.32" y2="194.02" stroke="#1f1fc0" stroke-width="0.9"/>
<line x1="230.02" y1="194.02" x2="232.62" y2="194.02" stroke="#1f1fc0" stroke-width="0.9"/>
<line x1="236.83" y1="205.62" x2="236.83" y2="201.77" stroke="#1f1fc0" stroke-width="0.9"/>
<line x1="235.53" y1="201.77" x2="238.13" y2="201.77" stroke="#1f1fc0" stroke-width="0.9"/>
<line x1="242.35" y1="220.69" x2="242.35" y2="214.3" stroke="#1f1fc0" stroke-width="0.9"/>
<line x1="241.05" y1="214.3" x2="243.65" y2="214.3" stroke="#1f1fc0" stroke-width="0.9"/>
<line x1="71.35" y1="239.35" x2="71.35" y2="237.39" stroke="#000" stroke-width="0.9"/>
<line x1="70.05" y1="237.39" x2="72.65" y2="237.39" stroke="#000" stroke-width="0.9"/>
<line x1="76.87" y1="244.59" x2="76.87" y2="242.63" stroke="#000" stroke-width="0.9"/>
<line x1="75.57" y1="242.63" x2="78.17" y2="242.63" stroke="#000" stroke-width="0.9"/>
<line x1="82.38" y1="236.54" x2="82.38" y2="234.57" stroke="#000" stroke-width="0.9"/>
<line x1="81.08" y1="234.57" x2="83.68" y2="234.57" stroke="#000" stroke-width="0.9"/>
<line x1="87.9" y1="247.87" x2="87.9" y2="245.9" stroke="#000" stroke-width="0.9"/>
<line x1="86.6" y1="245.9" x2="89.2" y2="245.9" stroke="#000" stroke-width="0.9"/>
<line x1="93.42" y1="234.77" x2="93.42" y2="230.18" stroke="#000" stroke-width="0.9"/>
<line x1="92.12" y1="230.18" x2="94.72" y2="230.18" stroke="#000" stroke-width="0.9"/>
<line x1="98.93" y1="238.7" x2="98.93" y2="236.73" stroke="#000" stroke-width="0.9"/>
<line x1="97.63" y1="236.73" x2="100.23" y2="236.73" stroke="#000" stroke-width="0.9"/>
<line x1="104.45" y1="236.54" x2="104.45" y2="233.92" stroke="#000" stroke-width="0.9"/>
<line x1="103.15" y1="233.92" x2="105.75" y2="233.92" stroke="#000" stroke-width="0.9"/>
<line x1="109.96" y1="238.89" x2="109.96" y2="236.93" stroke="#000" stroke-width="0.9"/>
<line x1="108.66" y1="236.93" x2="111.26" y2="236.93" stroke="#000" stroke-width="0.9"/>
<line x1="115.48" y1="228.41" x2="115.48" y2="226.45" stroke="#000" stroke-width="0.9"/>
<line x1="114.18" y1="226.45" x2="116.78" y2="226.45" stroke="#000" stroke-width="0.9"/>
<line x1="121" y1="221.01" x2="121" y2="215.77" stroke="#000" stroke-width="0.9"/>
<line x1="119.7" y1="215.77" x2="122.3" y2="215.77" stroke="#000" stroke-width="0.9"/>
<line x1="126.51" y1="225.93" x2="126.51" y2="222" stroke="#000" stroke-width="0.9"/>
<line x1="125.21" y1="222" x2="127.81" y2="222" stroke="#000" stroke-width="0.9"/>
<line x1="132.03" y1="224.94" x2="132.03" y2="221.01" stroke="#000" stroke-width="0.9"/>
<line x1="130.73" y1="221.01" x2="133.33" y2="221.01" stroke="#000" stroke-width="0.9"/>
<line x1="137.54" y1="218.06" x2="137.54" y2="212.83" stroke="#000" stroke-width="0.9"/>
<line x1="136.24" y1="212.83" x2="138.84" y2="212.83" stroke="#000" stroke-width="0.9"/>
<line x1="143.06" y1="215.12" x2="143.06" y2="209.22" stroke="#000" stroke-width="0.9"/>
<line x1="141.76" y1="209.22" x2="144.36" y2="209.22" stroke="#000" stroke-width="0.9"/>
<line x1="148.58" y1="222.65" x2="148.58" y2="216.1" stroke="#000" stroke-width="0.9"/>
<line x1="147.28" y1="216.1" x2="149.88" y2="216.1" stroke="#000" stroke-width="0.9"/>
<line x1="154.09" y1="206.93" x2="154.09" y2="203" stroke="#000" stroke-width="0.9"/>
<line x1="152.79" y1="203" x2="155.39" y2="203" stroke="#000" stroke-width="0.9"/>
<line x1="159.61" y1="188.92" x2="159.61" y2="183.02" stroke="#000" stroke-width="0.9"/>
<line x1="158.31" y1="183.02" x2="160.91" y2="183.02" stroke="#000" stroke-width="0.9"/>
<line x1="165.12" y1="220.03" x2="165.12" y2="212.83" stroke="#000" stroke-width="0.9"/>
<line x1="163.82" y1="212.83" x2="166.42" y2="212.83" stroke="#000" stroke-width="0.9"/>
<line x1="170.64" y1="210.86" x2="170.64" y2="203" stroke="#000" stroke-width="0.9"/>
<line x1="169.34" y1="203" x2="171.94" y2="203" stroke="#000" stroke-width="0.9"/>
<line x1="176.16" y1="209.55" x2="176.16" y2="202.35" stroke="#000" stroke-width="0.9"/>
<line x1="174.86" y1="202.35" x2="177.46" y2="202.35" stroke="#000" stroke-width="0.9"/>
<line x1="181.67" y1="201.69" x2="181.67" y2="191.87" stroke="#000" stroke-width="0.9"/>
<line x1="180.37" y1="191.87" x2="182.97" y2="191.87" stroke="#000" stroke-width="0.9"/>
<line x1="187.19" y1="203.65" x2="187.19" y2="200.38" stroke="#000" stroke-width="0.9"/>
<line x1="185.89" y1="200.38" x2="188.49" y2="200.38" stroke="#000" stroke-width="0.9"/>
<line x1="192.7" y1="198.41" x2="192.7" y2="189.24" stroke="#000" stroke-width="0.9"/>
<line x1="191.4" y1="189.24" x2="194" y2="189.24" stroke="#000" stroke-width="0.9"/>
<line x1="198.22" y1="200.38" x2="198.22" y2="193.83" stroke="#000" stroke-width="0.9"/>
<line x1="196.92" y1="193.83" x2="199.52" y2="193.83" stroke="#000" stroke-width="0.9"/>
<line x1="203.74" y1="208.57" x2="203.74" y2="194.16" stroke="#000" stroke-width="0.9"/>
<line x1="202.44" y1="194.16" x2="205.04" y2="194.16" stroke="#000" stroke-width="0.9"/>
<line x1="209.25" y1="202.35" x2="209.25" y2="192.85" stroke="#000" stroke-width="0.9"/>
<line x1="207.95" y1="192.85" x2="210.55" y2="192.85" stroke="#000" stroke-width="0.9"/>
<line x1="214.77" y1="199.07" x2="214.77" y2="186.62" stroke="#000" stroke-width="0.9"/>
<line x1="213.47" y1="186.62" x2="216.07" y2="186.62" stroke="#000" stroke-width="0.9"/>
<line x1="220.28" y1="202.35" x2="220.28" y2="191.87" stroke="#000" stroke-width="0.9"/>
<line x1="218.98" y1="191.87" x2="221.58" y2="191.87" stroke="#000" stroke-width="0.9"/>
<line x1="225.8" y1="201.04" x2="225.8" y2="186.62" stroke="#000" stroke-width="0.9"/>
<line x1="224.5" y1="186.62" x2="227.1" y2="186.62" stroke="#000" stroke-width="0.9"/>
<line x1="231.32" y1="200.05" x2="231.32" y2="190.55" stroke="#000" stroke-width="0.9"/>
<line x1="230.02" y1="190.55" x2="232.62" y2="190.55" stroke="#000" stroke-width="0.9"/>
<line x1="236.83" y1="201.04" x2="236.83" y2="188.59" stroke="#000" stroke-width="0.9"/>
<line x1="235.53" y1="188.59" x2="238.13" y2="188.59" stroke="#000" stroke-width="0.9"/>
<line x1="242.35" y1="209.16" x2="242.35" y2="199.33" stroke="#000" stroke-width="0.9"/>
<line x1="241.05" y1="199.33" x2="243.65" y2="199.33" stroke="#000" stroke-width="0.9"/>
<polyline points="71.35,238.37 76.87,240.34 82.38,242.3 87.9,255.27 93.42,245.44 98.93,247.74 104.45,269.61 109.96,253.76 115.48,254.42 121,246.1 126.51,250.81 132.03,260.64 137.54,253.76 143.06,262.6 148.58,265.88 154.09,252.12 159.61,248.85 165.12,263.91 170.64,267.19 176.16,267.19 181.67,266.54 187.19,278.98 192.7,270.14 198.22,275.7 203.74,277.34 209.25,277.01 214.77,269.15 220.28,263.26 225.8,265.55 231.32,255.4 236.83,255.4 242.35,265.23" fill="none" stroke="#e2712c" stroke-width="1.3" stroke-linejoin="round"/>
<rect x="68.97" y="235.99" width="4.77" height="4.77" fill="#e2712c"/>
<rect x="74.48" y="237.95" width="4.77" height="4.77" fill="#e2712c"/>
<rect x="80" y="239.92" width="4.77" height="4.77" fill="#e2712c"/>
<rect x="85.52" y="252.88" width="4.77" height="4.77" fill="#e2712c"/>
<rect x="91.03" y="243.06" width="4.77" height="4.77" fill="#e2712c"/>
<rect x="96.55" y="245.35" width="4.77" height="4.77" fill="#e2712c"/>
<rect x="102.06" y="267.23" width="4.77" height="4.77" fill="#e2712c"/>
<rect x="107.58" y="251.38" width="4.77" height="4.77" fill="#e2712c"/>
<rect x="113.09" y="252.03" width="4.77" height="4.77" fill="#e2712c"/>
<rect x="118.61" y="243.71" width="4.77" height="4.77" fill="#e2712c"/>
<rect x="124.13" y="248.43" width="4.77" height="4.77" fill="#e2712c"/>
<rect x="129.64" y="258.25" width="4.77" height="4.77" fill="#e2712c"/>
<rect x="135.16" y="251.38" width="4.77" height="4.77" fill="#e2712c"/>
<rect x="140.68" y="260.22" width="4.77" height="4.77" fill="#e2712c"/>
<rect x="146.19" y="263.5" width="4.77" height="4.77" fill="#e2712c"/>
<rect x="151.71" y="249.74" width="4.77" height="4.77" fill="#e2712c"/>
<rect x="157.22" y="246.47" width="4.77" height="4.77" fill="#e2712c"/>
<rect x="162.74" y="261.53" width="4.77" height="4.77" fill="#e2712c"/>
<rect x="168.25" y="264.81" width="4.77" height="4.77" fill="#e2712c"/>
<rect x="173.77" y="264.81" width="4.77" height="4.77" fill="#e2712c"/>
<rect x="179.29" y="264.15" width="4.77" height="4.77" fill="#e2712c"/>
<rect x="184.8" y="276.59" width="4.77" height="4.77" fill="#e2712c"/>
<rect x="190.32" y="267.75" width="4.77" height="4.77" fill="#e2712c"/>
<rect x="195.84" y="273.32" width="4.77" height="4.77" fill="#e2712c"/>
<rect x="201.35" y="274.96" width="4.77" height="4.77" fill="#e2712c"/>
<rect x="206.87" y="274.63" width="4.77" height="4.77" fill="#e2712c"/>
<rect x="212.38" y="266.77" width="4.77" height="4.77" fill="#e2712c"/>
<rect x="217.9" y="260.88" width="4.77" height="4.77" fill="#e2712c"/>
<rect x="223.42" y="263.17" width="4.77" height="4.77" fill="#e2712c"/>
<rect x="228.93" y="253.02" width="4.77" height="4.77" fill="#e2712c"/>
<rect x="234.45" y="253.02" width="4.77" height="4.77" fill="#e2712c"/>
<rect x="239.96" y="262.84" width="4.77" height="4.77" fill="#e2712c"/>
<polyline points="71.35,234.96 76.87,238.37 82.38,240.34 87.9,253.44 93.42,239.68 98.93,257.69 104.45,256.05 109.96,252.12 115.48,238.37 121,231.49 126.51,249.83 132.03,248.2 137.54,247.54 143.06,247.54 148.58,251.47 154.09,236.4 159.61,224.62 165.12,244.26 170.64,252.12 176.16,256.71 181.67,254.42 187.19,258.02 192.7,246.56 198.22,254.42 203.74,255.4 209.25,256.05 214.77,253.44 220.28,247.54 225.8,247.87 231.32,245.58 236.83,254.42 242.35,261.3" fill="none" stroke="#6cbd40" stroke-width="1.3" stroke-linejoin="round"/>
<polygon points="71.35,238.38 68.45,232.87 74.25,232.87" fill="#6cbd40"/>
<polygon points="76.87,241.79 73.97,236.28 79.77,236.28" fill="#6cbd40"/>
<polygon points="82.38,243.75 79.48,238.24 85.28,238.24" fill="#6cbd40"/>
<polygon points="87.9,256.85 85,251.34 90.8,251.34" fill="#6cbd40"/>
<polygon points="93.42,243.1 90.52,237.59 96.32,237.59" fill="#6cbd40"/>
<polygon points="98.93,261.11 96.03,255.6 101.83,255.6" fill="#6cbd40"/>
<polygon points="104.45,259.47 101.55,253.96 107.35,253.96" fill="#6cbd40"/>
<polygon points="109.96,255.54 107.06,250.03 112.86,250.03" fill="#6cbd40"/>
<polygon points="115.48,241.79 112.58,236.28 118.38,236.28" fill="#6cbd40"/>
<polygon points="121,234.91 118.1,229.4 123.9,229.4" fill="#6cbd40"/>
<polygon points="126.51,253.25 123.61,247.74 129.41,247.74" fill="#6cbd40"/>
<polygon points="132.03,251.61 129.13,246.1 134.93,246.1" fill="#6cbd40"/>
<polygon points="137.54,250.96 134.64,245.45 140.44,245.45" fill="#6cbd40"/>
<polygon points="143.06,250.96 140.16,245.45 145.96,245.45" fill="#6cbd40"/>
<polygon points="148.58,254.89 145.68,249.38 151.48,249.38" fill="#6cbd40"/>
<polygon points="154.09,239.82 151.19,234.31 156.99,234.31" fill="#6cbd40"/>
<polygon points="159.61,228.03 156.71,222.52 162.51,222.52" fill="#6cbd40"/>
<polygon points="165.12,247.68 162.22,242.17 168.02,242.17" fill="#6cbd40"/>
<polygon points="170.64,255.54 167.74,250.03 173.54,250.03" fill="#6cbd40"/>
<polygon points="176.16,260.13 173.26,254.62 179.06,254.62" fill="#6cbd40"/>
<polygon points="181.67,257.83 178.77,252.32 184.57,252.32" fill="#6cbd40"/>
<polygon points="187.19,261.44 184.29,255.93 190.09,255.93" fill="#6cbd40"/>
<polygon points="192.7,249.97 189.8,244.46 195.6,244.46" fill="#6cbd40"/>
<polygon points="198.22,257.83 195.32,252.32 201.12,252.32" fill="#6cbd40"/>
<polygon points="203.74,258.82 200.84,253.31 206.64,253.31" fill="#6cbd40"/>
<polygon points="209.25,259.47 206.35,253.96 212.15,253.96" fill="#6cbd40"/>
<polygon points="214.77,256.85 211.87,251.34 217.67,251.34" fill="#6cbd40"/>
<polygon points="220.28,250.96 217.38,245.45 223.18,245.45" fill="#6cbd40"/>
<polygon points="225.8,251.28 222.9,245.77 228.7,245.77" fill="#6cbd40"/>
<polygon points="231.32,248.99 228.42,243.48 234.22,243.48" fill="#6cbd40"/>
<polygon points="236.83,257.83 233.93,252.32 239.73,252.32" fill="#6cbd40"/>
<polygon points="242.35,264.71 239.45,259.2 245.25,259.2" fill="#6cbd40"/>
<polyline points="71.35,242.43 76.87,237.19 82.38,241.65 87.9,247.21 93.42,239.68 98.93,254.42 104.45,254.42 109.96,252.45 115.48,234.77 121,228.22 126.51,239.35 132.03,243.61 137.54,237.72 143.06,240.66 148.58,237.06 154.09,222 159.61,213.48 165.12,232.8 170.64,235.1 176.16,232.8 181.67,235.1 187.19,237.39 192.7,223.96 198.22,223.96 203.74,219.38 209.25,209.55 214.77,208.9 220.28,216.1 225.8,218.72 231.32,200.05 236.83,205.62 242.35,220.69" fill="none" stroke="#1f1fc0" stroke-width="1.3" stroke-linejoin="round"/>
<polygon points="71.35,239.01 68.45,244.52 74.25,244.52" fill="#1f1fc0"/>
<polygon points="76.87,233.77 73.97,239.28 79.77,239.28" fill="#1f1fc0"/>
<polygon points="82.38,238.23 79.48,243.74 85.28,243.74" fill="#1f1fc0"/>
<polygon points="87.9,243.8 85,249.31 90.8,249.31" fill="#1f1fc0"/>
<polygon points="93.42,236.26 90.52,241.77 96.32,241.77" fill="#1f1fc0"/>
<polygon points="98.93,251 96.03,256.51 101.83,256.51" fill="#1f1fc0"/>
<polygon points="104.45,251 101.55,256.51 107.35,256.51" fill="#1f1fc0"/>
<polygon points="109.96,249.04 107.06,254.55 112.86,254.55" fill="#1f1fc0"/>
<polygon points="115.48,231.35 112.58,236.86 118.38,236.86" fill="#1f1fc0"/>
<polygon points="121,224.8 118.1,230.31 123.9,230.31" fill="#1f1fc0"/>
<polygon points="126.51,235.94 123.61,241.45 129.41,241.45" fill="#1f1fc0"/>
<polygon points="132.03,240.19 129.13,245.7 134.93,245.7" fill="#1f1fc0"/>
<polygon points="137.54,234.3 134.64,239.81 140.44,239.81" fill="#1f1fc0"/>
<polygon points="143.06,237.25 140.16,242.76 145.96,242.76" fill="#1f1fc0"/>
<polygon points="148.58,233.64 145.68,239.15 151.48,239.15" fill="#1f1fc0"/>
<polygon points="154.09,218.58 151.19,224.09 156.99,224.09" fill="#1f1fc0"/>
<polygon points="159.61,210.06 156.71,215.57 162.51,215.57" fill="#1f1fc0"/>
<polygon points="165.12,229.39 162.22,234.9 168.02,234.9" fill="#1f1fc0"/>
<polygon points="170.64,231.68 167.74,237.19 173.54,237.19" fill="#1f1fc0"/>
<polygon points="176.16,229.39 173.26,234.9 179.06,234.9" fill="#1f1fc0"/>
<polygon points="181.67,231.68 178.77,237.19 184.57,237.19" fill="#1f1fc0"/>
<polygon points="187.19,233.97 184.29,239.48 190.09,239.48" fill="#1f1fc0"/>
<polygon points="192.7,220.54 189.8,226.05 195.6,226.05" fill="#1f1fc0"/>
<polygon points="198.22,220.54 195.32,226.05 201.12,226.05" fill="#1f1fc0"/>
<polygon points="203.74,215.96 200.84,221.47 206.64,221.47" fill="#1f1fc0"/>
<polygon points="209.25,206.13 206.35,211.64 212.15,211.64" fill="#1f1fc0"/>
<polygon points="214.77,205.48 211.87,210.99 217.67,210.99" fill="#1f1fc0"/>
<polygon points="220.28,212.68 217.38,218.19 223.18,218.19" fill="#1f1fc0"/>
<polygon points="225.8,215.3 222.9,220.81 228.7,220.81" fill="#1f1fc0"/>
<polygon points="231.32,196.64 228.42,202.15 234.22,202.15" fill="#1f1fc0"/>
<polygon points="236.83,202.2 233.93,207.71 239.73,207.71" fill="#1f1fc0"/>
<polygon points="242.35,217.27 239.45,222.78 245.25,222.78" fill="#1f1fc0"/>
<polyline points="71.35,239.35 76.87,244.59 82.38,236.54 87.9,247.87 93.42,234.77 98.93,238.7 104.45,236.54 109.96,238.89 115.48,228.41 121,221.01 126.51,225.93 132.03,224.94 137.54,218.06 143.06,215.12 148.58,222.65 154.09,206.93 159.61,188.92 165.12,220.03 170.64,210.86 176.16,209.55 181.67,201.69 187.19,203.65 192.7,198.41 198.22,200.38 203.74,208.57 209.25,202.35 214.77,199.07 220.28,202.35 225.8,201.04 231.32,200.05 236.83,201.04 242.35,209.16" fill="none" stroke="#000" stroke-width="1.3" stroke-linejoin="round"/>
<circle cx="71.35" cy="239.35" r="2.55" fill="#000"/>
<circle cx="76.87" cy="244.59" r="2.55" fill="#000"/>
<circle cx="82.38" cy="236.54" r="2.55" fill="#000"/>
<circle cx="87.9" cy="247.87" r="2.55" fill="#000"/>
<circle cx="93.42" cy="234.77" r="2.55" fill="#000"/>
<circle cx="98.93" cy="238.7" r="2.55" fill="#000"/>
<circle cx="104.45" cy="236.54" r="2.55" fill="#000"/>
<circle cx="109.96" cy="238.89" r="2.55" fill="#000"/>
<circle cx="115.48" cy="228.41" r="2.55" fill="#000"/>
<circle cx="121" cy="221.01" r="2.55" fill="#000"/>
<circle cx="126.51" cy="225.93" r="2.55" fill="#000"/>
<circle cx="132.03" cy="224.94" r="2.55" fill="#000"/>
<circle cx="137.54" cy="218.06" r="2.55" fill="#000"/>
<circle cx="143.06" cy="215.12" r="2.55" fill="#000"/>
<circle cx="148.58" cy="222.65" r="2.55" fill="#000"/>
<circle cx="154.09" cy="206.93" r="2.55" fill="#000"/>
<circle cx="159.61" cy="188.92" r="2.55" fill="#000"/>
<circle cx="165.12" cy="220.03" r="2.55" fill="#000"/>
<circle cx="170.64" cy="210.86" r="2.55" fill="#000"/>
<circle cx="176.16" cy="209.55" r="2.55" fill="#000"/>
<circle cx="181.67" cy="201.69" r="2.55" fill="#000"/>
<circle cx="187.19" cy="203.65" r="2.55" fill="#000"/>
<circle cx="192.7" cy="198.41" r="2.55" fill="#000"/>
<circle cx="198.22" cy="200.38" r="2.55" fill="#000"/>
<circle cx="203.74" cy="208.57" r="2.55" fill="#000"/>
<circle cx="209.25" cy="202.35" r="2.55" fill="#000"/>
<circle cx="214.77" cy="199.07" r="2.55" fill="#000"/>
<circle cx="220.28" cy="202.35" r="2.55" fill="#000"/>
<circle cx="225.8" cy="201.04" r="2.55" fill="#000"/>
<circle cx="231.32" cy="200.05" r="2.55" fill="#000"/>
<circle cx="236.83" cy="201.04" r="2.55" fill="#000"/>
<circle cx="242.35" cy="209.16" r="2.55" fill="#000"/>
<rect x="83.6" y="125.8" width="158.6" height="27.7" fill="#fff" stroke="#333" stroke-width="1.2"/>
<line x1="90.6" y1="134.7" x2="105.3" y2="134.7" stroke="#000" stroke-width="1.1"/>
<circle cx="97.95" cy="134.7" r="2.5" fill="#000"/>
<text x="109.4" y="137.7" font-size="11.3" fill="#111"  stroke="#111" stroke-width="0.2">control</text>
<line x1="90.6" y1="145.4" x2="105.3" y2="145.4" stroke="#1f1fc0" stroke-width="1.1"/>
<polygon points="97.95,141.87 94.95,147.57 100.95,147.57" fill="#1f1fc0"/>
<text x="109.4" y="149" font-size="11.3" fill="#111" word-spacing="0.6" stroke="#111" stroke-width="0.2">3 on 4 off</text>
<line x1="166.6" y1="133.8" x2="181.6" y2="133.8" stroke="#6cbd40" stroke-width="1.1"/>
<polygon points="174.1,137.33 171.1,131.63 177.1,131.63" fill="#6cbd40"/>
<text x="184.6" y="137.7" font-size="11.3" fill="#111" word-spacing="0.6" stroke="#111" stroke-width="0.2">1 on 1 off</text>
<line x1="166.6" y1="145.1" x2="181.6" y2="145.1" stroke="#e2712c" stroke-width="1.1"/>
<rect x="171.76" y="142.76" width="4.68" height="4.68" fill="#e2712c"/>
<text x="184.6" y="149" font-size="11.3" fill="#111" word-spacing="0.6" stroke="#111" stroke-width="0.2">5 on 2 off</text>
<line x1="178.1" y1="175.3" x2="186.1" y2="175.3" stroke="#111" stroke-width="1.2"/>
<line x1="182.1" y1="175.3" x2="182.1" y2="184.4" stroke="#111" stroke-width="1.2"/>
<polygon points="178.7,183.8 185.5,183.8 182.1,189.4" fill="#111"/>
<line x1="238.9" y1="175.3" x2="246.9" y2="175.3" stroke="#111" stroke-width="1.2"/>
<line x1="242.9" y1="175.3" x2="242.9" y2="184.6" stroke="#111" stroke-width="1.2"/>
<polygon points="239.5,184 246.3,184 242.9,189.6" fill="#111"/>
<polygon points="177.8,157.15 178.48,158.97 180.42,159.05 178.9,160.26 179.42,162.12 177.8,161.06 176.18,162.12 176.7,160.26 175.18,159.05 177.12,158.97" fill="#e2712c"/>
<polygon points="182.9,157.15 183.58,158.97 185.52,159.05 184,160.26 184.52,162.12 182.9,161.06 181.28,162.12 181.8,160.26 180.28,159.05 182.22,158.97" fill="#e2712c"/>
<polygon points="188,157.15 188.68,158.97 190.62,159.05 189.1,160.26 189.62,162.12 188,161.06 186.38,162.12 186.9,160.26 185.38,159.05 187.32,158.97" fill="#e2712c"/>
<polygon points="177.8,162.85 178.48,164.67 180.42,164.75 178.9,165.96 179.42,167.82 177.8,166.75 176.18,167.82 176.7,165.96 175.18,164.75 177.12,164.67" fill="#6cbd40"/>
<polygon points="182.9,162.85 183.58,164.67 185.52,164.75 184,165.96 184.52,167.82 182.9,166.75 181.28,167.82 181.8,165.96 180.28,164.75 182.22,164.67" fill="#6cbd40"/>
<polygon points="188,162.85 188.68,164.67 190.62,164.75 189.1,165.96 189.62,167.82 188,166.75 186.38,167.82 186.9,165.96 185.38,164.75 187.32,164.67" fill="#6cbd40"/>
<polygon points="179.65,167.95 180.33,169.77 182.27,169.85 180.75,171.06 181.27,172.92 179.65,171.85 178.03,172.92 178.55,171.06 177.03,169.85 178.97,169.77" fill="#1f1fc0"/>
<polygon points="184.95,167.95 185.63,169.77 187.57,169.85 186.05,171.06 186.57,172.92 184.95,171.85 183.33,172.92 183.85,171.06 182.33,169.85 184.27,169.77" fill="#1f1fc0"/>
<polygon points="238.4,162.85 239.08,164.67 241.02,164.75 239.5,165.96 240.02,167.82 238.4,166.75 236.78,167.82 237.3,165.96 235.78,164.75 237.72,164.67" fill="#e2712c"/>
<polygon points="243.5,162.85 244.18,164.67 246.12,164.75 244.6,165.96 245.12,167.82 243.5,166.75 241.88,167.82 242.4,165.96 240.88,164.75 242.82,164.67" fill="#e2712c"/>
<polygon points="248.6,162.85 249.28,164.67 251.22,164.75 249.7,165.96 250.22,167.82 248.6,166.75 246.98,167.82 247.5,165.96 245.98,164.75 247.92,164.67" fill="#e2712c"/>
<polygon points="238.4,167.95 239.08,169.77 241.02,169.85 239.5,171.06 240.02,172.92 238.4,171.85 236.78,172.92 237.3,171.06 235.78,169.85 237.72,169.77" fill="#6cbd40"/>
<polygon points="243.5,167.95 244.18,169.77 246.12,169.85 244.6,171.06 245.12,172.92 243.5,171.85 241.88,172.92 242.4,171.06 240.88,169.85 242.82,169.77" fill="#6cbd40"/>
<polygon points="248.6,167.95 249.28,169.77 251.22,169.85 249.7,171.06 250.22,172.92 248.6,171.85 246.98,172.92 247.5,171.06 245.98,169.85 247.92,169.77" fill="#6cbd40"/>
<line x1="335.2" y1="171.92" x2="335.2" y2="308.3" stroke="#111" stroke-width="1.2"/>
<line x1="334.6" y1="307.8" x2="512.47" y2="307.8" stroke="#111" stroke-width="1.2"/>
<line x1="331.6" y1="172.42" x2="335.2" y2="172.42" stroke="#111" stroke-width="1.2"/>
<text x="329" y="176.02" font-size="12" text-anchor="end" fill="#111" letter-spacing="0.8" stroke="#111" stroke-width="0.2">5</text>
<line x1="331.6" y1="202.9" x2="335.2" y2="202.9" stroke="#111" stroke-width="1.2"/>
<text x="329" y="206.5" font-size="12" text-anchor="end" fill="#111" letter-spacing="0.8" stroke="#111" stroke-width="0.2">1</text>
<line x1="331.6" y1="246.5" x2="335.2" y2="246.5" stroke="#111" stroke-width="1.2"/>
<text x="329" y="250.1" font-size="12" text-anchor="end" fill="#111" letter-spacing="0.8" stroke="#111" stroke-width="0.2">0.1</text>
<line x1="331.6" y1="290.1" x2="335.2" y2="290.1" stroke="#111" stroke-width="1.2"/>
<text x="329" y="293.7" font-size="12" text-anchor="end" fill="#111" letter-spacing="0.8" stroke="#111" stroke-width="0.2">0.01</text>
<line x1="333.2" y1="303.22" x2="335.2" y2="303.22" stroke="#111" stroke-width="0.9"/>
<line x1="333.2" y1="299.77" x2="335.2" y2="299.77" stroke="#111" stroke-width="0.9"/>
<line x1="333.2" y1="296.85" x2="335.2" y2="296.85" stroke="#111" stroke-width="0.9"/>
<line x1="333.2" y1="294.33" x2="335.2" y2="294.33" stroke="#111" stroke-width="0.9"/>
<line x1="333.2" y1="292.1" x2="335.2" y2="292.1" stroke="#111" stroke-width="0.9"/>
<line x1="333.2" y1="276.98" x2="335.2" y2="276.98" stroke="#111" stroke-width="0.9"/>
<line x1="333.2" y1="269.3" x2="335.2" y2="269.3" stroke="#111" stroke-width="0.9"/>
<line x1="333.2" y1="263.85" x2="335.2" y2="263.85" stroke="#111" stroke-width="0.9"/>
<line x1="333.2" y1="259.62" x2="335.2" y2="259.62" stroke="#111" stroke-width="0.9"/>
<line x1="333.2" y1="256.17" x2="335.2" y2="256.17" stroke="#111" stroke-width="0.9"/>
<line x1="333.2" y1="253.25" x2="335.2" y2="253.25" stroke="#111" stroke-width="0.9"/>
<line x1="333.2" y1="250.73" x2="335.2" y2="250.73" stroke="#111" stroke-width="0.9"/>
<line x1="333.2" y1="248.5" x2="335.2" y2="248.5" stroke="#111" stroke-width="0.9"/>
<line x1="333.2" y1="233.38" x2="335.2" y2="233.38" stroke="#111" stroke-width="0.9"/>
<line x1="333.2" y1="225.7" x2="335.2" y2="225.7" stroke="#111" stroke-width="0.9"/>
<line x1="333.2" y1="220.25" x2="335.2" y2="220.25" stroke="#111" stroke-width="0.9"/>
<line x1="333.2" y1="216.02" x2="335.2" y2="216.02" stroke="#111" stroke-width="0.9"/>
<line x1="333.2" y1="212.57" x2="335.2" y2="212.57" stroke="#111" stroke-width="0.9"/>
<line x1="333.2" y1="209.65" x2="335.2" y2="209.65" stroke="#111" stroke-width="0.9"/>
<line x1="333.2" y1="207.13" x2="335.2" y2="207.13" stroke="#111" stroke-width="0.9"/>
<line x1="333.2" y1="204.9" x2="335.2" y2="204.9" stroke="#111" stroke-width="0.9"/>
<line x1="333.2" y1="189.78" x2="335.2" y2="189.78" stroke="#111" stroke-width="0.9"/>
<line x1="333.2" y1="182.1" x2="335.2" y2="182.1" stroke="#111" stroke-width="0.9"/>
<line x1="333.2" y1="176.65" x2="335.2" y2="176.65" stroke="#111" stroke-width="0.9"/>
<line x1="334.98" y1="307.8" x2="334.98" y2="311.2" stroke="#111" stroke-width="1.1"/>
<text x="333.18" y="326.4" font-size="12" text-anchor="middle" fill="#111" letter-spacing="0.8" stroke="#111" stroke-width="0.2">-3</text>
<line x1="352.1" y1="307.8" x2="352.1" y2="311.2" stroke="#111" stroke-width="1.1"/>
<text x="351.3" y="326.4" font-size="12" text-anchor="middle" fill="#111" letter-spacing="0.8" stroke="#111" stroke-width="0.2">0</text>
<line x1="369.22" y1="307.8" x2="369.22" y2="311.2" stroke="#111" stroke-width="1.1"/>
<text x="368.42" y="326.4" font-size="12" text-anchor="middle" fill="#111" letter-spacing="0.8" stroke="#111" stroke-width="0.2">3</text>
<line x1="392.04" y1="307.8" x2="392.04" y2="311.2" stroke="#111" stroke-width="1.1"/>
<text x="391.24" y="326.4" font-size="12" text-anchor="middle" fill="#111" letter-spacing="0.8" stroke="#111" stroke-width="0.2">7</text>
<line x1="409.16" y1="307.8" x2="409.16" y2="311.2" stroke="#111" stroke-width="1.1"/>
<text x="408.36" y="326.4" font-size="12" text-anchor="middle" fill="#111" letter-spacing="0.8" stroke="#111" stroke-width="0.2">10</text>
<line x1="431.98" y1="307.8" x2="431.98" y2="311.2" stroke="#111" stroke-width="1.1"/>
<text x="431.18" y="326.4" font-size="12" text-anchor="middle" fill="#111" letter-spacing="0.8" stroke="#111" stroke-width="0.2">14</text>
<line x1="449.1" y1="307.8" x2="449.1" y2="311.2" stroke="#111" stroke-width="1.1"/>
<text x="448.3" y="326.4" font-size="12" text-anchor="middle" fill="#111" letter-spacing="0.8" stroke="#111" stroke-width="0.2">17</text>
<line x1="471.93" y1="307.8" x2="471.93" y2="311.2" stroke="#111" stroke-width="1.1"/>
<text x="471.13" y="326.4" font-size="12" text-anchor="middle" fill="#111" letter-spacing="0.8" stroke="#111" stroke-width="0.2">21</text>
<line x1="489.04" y1="307.8" x2="489.04" y2="311.2" stroke="#111" stroke-width="1.1"/>
<text x="488.24" y="326.4" font-size="12" text-anchor="middle" fill="#111" letter-spacing="0.8" stroke="#111" stroke-width="0.2">24</text>
<line x1="511.87" y1="307.8" x2="511.87" y2="311.2" stroke="#111" stroke-width="1.1"/>
<text x="511.07" y="326.4" font-size="12" text-anchor="middle" fill="#111" letter-spacing="0.8" stroke="#111" stroke-width="0.2">28</text>
<text x="421" y="340.9" font-size="14.4" text-anchor="middle" fill="#111"  stroke="#111" stroke-width="0.2">Day</text>
<text transform="translate(297.6,236.8) rotate(-90)" font-size="13.8" text-anchor="middle" fill="#111" stroke="#111" stroke-width="0.2">ACY-957 (&#181;M)</text>
<line x1="369.22" y1="192.2" x2="369.22" y2="187.97" stroke="#e2712c" stroke-width="0.9"/>
<line x1="367.92" y1="187.97" x2="370.52" y2="187.97" stroke="#e2712c" stroke-width="0.9"/>
<line x1="392.04" y1="236.45" x2="392.04" y2="229.92" stroke="#e2712c" stroke-width="0.9"/>
<line x1="390.74" y1="229.92" x2="393.34" y2="229.92" stroke="#e2712c" stroke-width="0.9"/>
<line x1="409.16" y1="181.48" x2="409.16" y2="178.65" stroke="#e2712c" stroke-width="0.9"/>
<line x1="407.86" y1="178.65" x2="410.46" y2="178.65" stroke="#e2712c" stroke-width="0.9"/>
<line x1="431.98" y1="225.7" x2="431.98" y2="221.22" stroke="#e2712c" stroke-width="0.9"/>
<line x1="430.68" y1="221.22" x2="433.28" y2="221.22" stroke="#e2712c" stroke-width="0.9"/>
<line x1="449.1" y1="180.29" x2="449.1" y2="177.62" stroke="#e2712c" stroke-width="0.9"/>
<line x1="447.8" y1="177.62" x2="450.4" y2="177.62" stroke="#e2712c" stroke-width="0.9"/>
<line x1="471.93" y1="225.08" x2="471.93" y2="216.02" stroke="#e2712c" stroke-width="0.9"/>
<line x1="470.63" y1="216.02" x2="473.23" y2="216.02" stroke="#e2712c" stroke-width="0.9"/>
<line x1="489.04" y1="278.25" x2="489.04" y2="272.75" stroke="#e2712c" stroke-width="0.9"/>
<line x1="487.74" y1="272.75" x2="490.34" y2="272.75" stroke="#e2712c" stroke-width="0.9"/>
<line x1="369.22" y1="182.29" x2="369.22" y2="180.29" stroke="#6cbd40" stroke-width="0.9"/>
<line x1="367.92" y1="180.29" x2="370.52" y2="180.29" stroke="#6cbd40" stroke-width="0.9"/>
<line x1="392.04" y1="242.27" x2="392.04" y2="238.82" stroke="#6cbd40" stroke-width="0.9"/>
<line x1="390.74" y1="238.82" x2="393.34" y2="238.82" stroke="#6cbd40" stroke-width="0.9"/>
<line x1="409.16" y1="177.37" x2="409.16" y2="175.73" stroke="#6cbd40" stroke-width="0.9"/>
<line x1="407.86" y1="175.73" x2="410.46" y2="175.73" stroke="#6cbd40" stroke-width="0.9"/>
<line x1="431.98" y1="237.6" x2="431.98" y2="234.35" stroke="#6cbd40" stroke-width="0.9"/>
<line x1="430.68" y1="234.35" x2="433.28" y2="234.35" stroke="#6cbd40" stroke-width="0.9"/>
<line x1="449.1" y1="174" x2="449.1" y2="172.42" stroke="#6cbd40" stroke-width="0.9"/>
<line x1="447.8" y1="172.42" x2="450.4" y2="172.42" stroke="#6cbd40" stroke-width="0.9"/>
<line x1="471.93" y1="230.32" x2="471.93" y2="227.69" stroke="#6cbd40" stroke-width="0.9"/>
<line x1="470.63" y1="227.69" x2="473.23" y2="227.69" stroke="#6cbd40" stroke-width="0.9"/>
<line x1="489.04" y1="287.29" x2="489.04" y2="285.13" stroke="#6cbd40" stroke-width="0.9"/>
<line x1="487.74" y1="285.13" x2="490.34" y2="285.13" stroke="#6cbd40" stroke-width="0.9"/>
<line x1="369.22" y1="187.13" x2="369.22" y2="184.81" stroke="#1f1fc0" stroke-width="0.9"/>
<line x1="367.92" y1="184.81" x2="370.52" y2="184.81" stroke="#1f1fc0" stroke-width="0.9"/>
<line x1="392.04" y1="288.3" x2="392.04" y2="286.65" stroke="#1f1fc0" stroke-width="0.9"/>
<line x1="390.74" y1="286.65" x2="393.34" y2="286.65" stroke="#1f1fc0" stroke-width="0.9"/>
<line x1="409.16" y1="184.09" x2="409.16" y2="182.1" stroke="#1f1fc0" stroke-width="0.9"/>
<line x1="407.86" y1="182.1" x2="410.46" y2="182.1" stroke="#1f1fc0" stroke-width="0.9"/>
<line x1="431.98" y1="283.46" x2="431.98" y2="281.2" stroke="#1f1fc0" stroke-width="0.9"/>
<line x1="430.68" y1="281.2" x2="433.28" y2="281.2" stroke="#1f1fc0" stroke-width="0.9"/>
<line x1="449.1" y1="182.1" x2="449.1" y2="179.73" stroke="#1f1fc0" stroke-width="0.9"/>
<line x1="447.8" y1="179.73" x2="450.4" y2="179.73" stroke="#1f1fc0" stroke-width="0.9"/>
<line x1="471.93" y1="284.84" x2="471.93" y2="282.42" stroke="#1f1fc0" stroke-width="0.9"/>
<line x1="470.63" y1="282.42" x2="473.23" y2="282.42" stroke="#1f1fc0" stroke-width="0.9"/>
<line x1="489.04" y1="290.87" x2="489.04" y2="289.18" stroke="#1f1fc0" stroke-width="0.9"/>
<line x1="487.74" y1="289.18" x2="490.34" y2="289.18" stroke="#1f1fc0" stroke-width="0.9"/>
<polyline points="369.22,192.2 392.04,236.45 409.16,181.48 431.98,225.7 449.1,180.29 471.93,225.08 489.04,278.25" fill="none" stroke="#e2712c" stroke-width="1.2" stroke-linejoin="round"/>
<rect x="366.07" y="189.05" width="6.3" height="6.3" fill="#e2712c"/>
<rect x="388.89" y="233.3" width="6.3" height="6.3" fill="#e2712c"/>
<rect x="406.01" y="178.33" width="6.3" height="6.3" fill="#e2712c"/>
<rect x="428.83" y="222.55" width="6.3" height="6.3" fill="#e2712c"/>
<rect x="445.95" y="177.14" width="6.3" height="6.3" fill="#e2712c"/>
<rect x="468.78" y="221.93" width="6.3" height="6.3" fill="#e2712c"/>
<rect x="485.89" y="275.1" width="6.3" height="6.3" fill="#e2712c"/>
<polyline points="369.22,182.29 392.04,242.27 409.16,177.37 431.98,237.6 449.1,174 471.93,230.32 489.04,287.29" fill="none" stroke="#6cbd40" stroke-width="1.2" stroke-linejoin="round"/>
<polygon points="369.22,186.41 365.72,179.76 372.72,179.76" fill="#6cbd40"/>
<polygon points="392.04,246.4 388.54,239.75 395.54,239.75" fill="#6cbd40"/>
<polygon points="409.16,181.5 405.66,174.85 412.66,174.85" fill="#6cbd40"/>
<polygon points="431.98,241.72 428.48,235.07 435.48,235.07" fill="#6cbd40"/>
<polygon points="449.1,178.13 445.6,171.48 452.6,171.48" fill="#6cbd40"/>
<polygon points="471.93,234.44 468.43,227.79 475.43,227.79" fill="#6cbd40"/>
<polygon points="489.04,291.41 485.54,284.76 492.54,284.76" fill="#6cbd40"/>
<polyline points="369.22,187.13 392.04,288.3 409.16,184.09 431.98,283.46 449.1,182.1 471.93,284.84 489.04,290.87" fill="none" stroke="#1f1fc0" stroke-width="1.2" stroke-linejoin="round"/>
<polygon points="369.22,183.01 365.72,189.66 372.72,189.66" fill="#1f1fc0"/>
<polygon points="392.04,284.17 388.54,290.82 395.54,290.82" fill="#1f1fc0"/>
<polygon points="409.16,179.97 405.66,186.62 412.66,186.62" fill="#1f1fc0"/>
<polygon points="431.98,279.34 428.48,285.99 435.48,285.99" fill="#1f1fc0"/>
<polygon points="449.1,177.97 445.6,184.62 452.6,184.62" fill="#1f1fc0"/>
<polygon points="471.93,280.72 468.43,287.37 475.43,287.37" fill="#1f1fc0"/>
<polygon points="489.04,286.75 485.54,293.4 492.54,293.4" fill="#1f1fc0"/>
<rect x="350" y="126" width="159.9" height="27.7" fill="#fff" stroke="#333" stroke-width="1.2"/>
<line x1="357" y1="134.9" x2="371.7" y2="134.9" stroke="#000" stroke-width="1.1"/>
<circle cx="364.35" cy="134.9" r="2.5" fill="#000"/>
<text x="375.8" y="137.9" font-size="11.3" fill="#111"  stroke="#111" stroke-width="0.2">control</text>
<line x1="357" y1="145.6" x2="371.7" y2="145.6" stroke="#1f1fc0" stroke-width="1.1"/>
<polygon points="364.35,142.07 361.35,147.77 367.35,147.77" fill="#1f1fc0"/>
<text x="375.8" y="149.2" font-size="11.3" fill="#111" word-spacing="0.6" stroke="#111" stroke-width="0.2">3 on 4 off</text>
<line x1="433" y1="134" x2="448" y2="134" stroke="#6cbd40" stroke-width="1.1"/>
<polygon points="440.5,137.53 437.5,131.83 443.5,131.83" fill="#6cbd40"/>
<text x="451" y="137.9" font-size="11.3" fill="#111" word-spacing="0.6" stroke="#111" stroke-width="0.2">1 on 1 off</text>
<line x1="433" y1="145.3" x2="448" y2="145.3" stroke="#e2712c" stroke-width="1.1"/>
<rect x="438.16" y="142.96" width="4.68" height="4.68" fill="#e2712c"/>
<text x="451" y="149.2" font-size="11.3" fill="#111" word-spacing="0.6" stroke="#111" stroke-width="0.2">5 on 2 off</text>
<line x1="334.3" y1="403.8" x2="334.3" y2="542.5" stroke="#111" stroke-width="1.2"/>
<line x1="333.7" y1="542" x2="512.89" y2="542" stroke="#111" stroke-width="1.2"/>
<line x1="330.7" y1="404.3" x2="334.3" y2="404.3" stroke="#111" stroke-width="1.2"/>
<text x="328.8" y="408.7" font-size="12" text-anchor="end" fill="#111" letter-spacing="0.8" stroke="#111" stroke-width="0.2">40</text>
<line x1="330.7" y1="445.9" x2="334.3" y2="445.9" stroke="#111" stroke-width="1.2"/>
<text x="328.8" y="450.3" font-size="12" text-anchor="end" fill="#111" letter-spacing="0.8" stroke="#111" stroke-width="0.2">10</text>
<line x1="330.7" y1="515" x2="334.3" y2="515" stroke="#111" stroke-width="1.2"/>
<text x="328.8" y="519.4" font-size="12" text-anchor="end" fill="#111" letter-spacing="0.8" stroke="#111" stroke-width="0.2">1</text>
<line x1="330.7" y1="542.5" x2="334.3" y2="542.5" stroke="#111" stroke-width="1.2"/>
<text x="328.8" y="546.9" font-size="12" text-anchor="end" fill="#111" letter-spacing="0.8" stroke="#111" stroke-width="0.2">0.4</text>
<line x1="332.3" y1="535.8" x2="334.3" y2="535.8" stroke="#111" stroke-width="0.9"/>
<line x1="332.3" y1="530.33" x2="334.3" y2="530.33" stroke="#111" stroke-width="0.9"/>
<line x1="332.3" y1="525.7" x2="334.3" y2="525.7" stroke="#111" stroke-width="0.9"/>
<line x1="332.3" y1="521.7" x2="334.3" y2="521.7" stroke="#111" stroke-width="0.9"/>
<line x1="332.3" y1="518.16" x2="334.3" y2="518.16" stroke="#111" stroke-width="0.9"/>
<line x1="332.3" y1="494.2" x2="334.3" y2="494.2" stroke="#111" stroke-width="0.9"/>
<line x1="332.3" y1="482.03" x2="334.3" y2="482.03" stroke="#111" stroke-width="0.9"/>
<line x1="332.3" y1="473.4" x2="334.3" y2="473.4" stroke="#111" stroke-width="0.9"/>
<line x1="332.3" y1="466.7" x2="334.3" y2="466.7" stroke="#111" stroke-width="0.9"/>
<line x1="332.3" y1="461.23" x2="334.3" y2="461.23" stroke="#111" stroke-width="0.9"/>
<line x1="332.3" y1="456.6" x2="334.3" y2="456.6" stroke="#111" stroke-width="0.9"/>
<line x1="332.3" y1="452.6" x2="334.3" y2="452.6" stroke="#111" stroke-width="0.9"/>
<line x1="332.3" y1="449.06" x2="334.3" y2="449.06" stroke="#111" stroke-width="0.9"/>
<line x1="332.3" y1="425.1" x2="334.3" y2="425.1" stroke="#111" stroke-width="0.9"/>
<line x1="332.3" y1="412.93" x2="334.3" y2="412.93" stroke="#111" stroke-width="0.9"/>
<line x1="334.38" y1="542" x2="334.38" y2="545.4" stroke="#111" stroke-width="1.1"/>
<text x="332.58" y="559.6" font-size="12" text-anchor="middle" fill="#111" letter-spacing="0.8" stroke="#111" stroke-width="0.2">-3</text>
<line x1="351.6" y1="542" x2="351.6" y2="545.4" stroke="#111" stroke-width="1.1"/>
<text x="350.8" y="559.6" font-size="12" text-anchor="middle" fill="#111" letter-spacing="0.8" stroke="#111" stroke-width="0.2">0</text>
<line x1="368.82" y1="542" x2="368.82" y2="545.4" stroke="#111" stroke-width="1.1"/>
<text x="368.02" y="559.6" font-size="12" text-anchor="middle" fill="#111" letter-spacing="0.8" stroke="#111" stroke-width="0.2">3</text>
<line x1="391.77" y1="542" x2="391.77" y2="545.4" stroke="#111" stroke-width="1.1"/>
<text x="390.97" y="559.6" font-size="12" text-anchor="middle" fill="#111" letter-spacing="0.8" stroke="#111" stroke-width="0.2">7</text>
<line x1="408.99" y1="542" x2="408.99" y2="545.4" stroke="#111" stroke-width="1.1"/>
<text x="408.19" y="559.6" font-size="12" text-anchor="middle" fill="#111" letter-spacing="0.8" stroke="#111" stroke-width="0.2">10</text>
<line x1="431.95" y1="542" x2="431.95" y2="545.4" stroke="#111" stroke-width="1.1"/>
<text x="431.15" y="559.6" font-size="12" text-anchor="middle" fill="#111" letter-spacing="0.8" stroke="#111" stroke-width="0.2">14</text>
<line x1="449.16" y1="542" x2="449.16" y2="545.4" stroke="#111" stroke-width="1.1"/>
<text x="448.36" y="559.6" font-size="12" text-anchor="middle" fill="#111" letter-spacing="0.8" stroke="#111" stroke-width="0.2">17</text>
<line x1="472.12" y1="542" x2="472.12" y2="545.4" stroke="#111" stroke-width="1.1"/>
<text x="471.32" y="559.6" font-size="12" text-anchor="middle" fill="#111" letter-spacing="0.8" stroke="#111" stroke-width="0.2">21</text>
<line x1="489.34" y1="542" x2="489.34" y2="545.4" stroke="#111" stroke-width="1.1"/>
<text x="488.54" y="559.6" font-size="12" text-anchor="middle" fill="#111" letter-spacing="0.8" stroke="#111" stroke-width="0.2">24</text>
<line x1="512.29" y1="542" x2="512.29" y2="545.4" stroke="#111" stroke-width="1.1"/>
<text x="511.49" y="559.6" font-size="12" text-anchor="middle" fill="#111" letter-spacing="0.8" stroke="#111" stroke-width="0.2">28</text>
<text x="422" y="573.9" font-size="14.4" text-anchor="middle" fill="#111"  stroke="#111" stroke-width="0.2">Day</text>
<text transform="translate(298.8,471.2) rotate(-90)" font-size="13.8" text-anchor="middle" fill="#111" stroke="#111" stroke-width="0.2">H3K56ac (rel total H4)</text>
<line x1="334.38" y1="528.39" x2="334.38" y2="524" stroke="#e2712c" stroke-width="1.0"/>
<line x1="332.88" y1="524" x2="335.88" y2="524" stroke="#e2712c" stroke-width="1.0"/>
<line x1="351.6" y1="505.99" x2="351.6" y2="503" stroke="#e2712c" stroke-width="1.0"/>
<line x1="350.1" y1="503" x2="353.1" y2="503" stroke="#e2712c" stroke-width="1.0"/>
<line x1="368.82" y1="500.34" x2="368.82" y2="480.2" stroke="#e2712c" stroke-width="1.0"/>
<line x1="367.32" y1="480.2" x2="370.32" y2="480.2" stroke="#e2712c" stroke-width="1.0"/>
<line x1="391.77" y1="471.37" x2="391.77" y2="460" stroke="#e2712c" stroke-width="1.0"/>
<line x1="390.27" y1="460" x2="393.27" y2="460" stroke="#e2712c" stroke-width="1.0"/>
<line x1="408.99" y1="451.86" x2="408.99" y2="440.6" stroke="#e2712c" stroke-width="1.0"/>
<line x1="407.49" y1="440.6" x2="410.49" y2="440.6" stroke="#e2712c" stroke-width="1.0"/>
<line x1="431.95" y1="448.08" x2="431.95" y2="435.2" stroke="#e2712c" stroke-width="1.0"/>
<line x1="430.45" y1="435.2" x2="433.45" y2="435.2" stroke="#e2712c" stroke-width="1.0"/>
<line x1="449.16" y1="429.45" x2="449.16" y2="420.9" stroke="#e2712c" stroke-width="1.0"/>
<line x1="447.66" y1="420.9" x2="450.66" y2="420.9" stroke="#e2712c" stroke-width="1.0"/>
<line x1="472.12" y1="455.88" x2="472.12" y2="450" stroke="#e2712c" stroke-width="1.0"/>
<line x1="470.62" y1="450" x2="473.62" y2="450" stroke="#e2712c" stroke-width="1.0"/>
<line x1="489.34" y1="466.28" x2="489.34" y2="457.7" stroke="#e2712c" stroke-width="1.0"/>
<line x1="487.84" y1="457.7" x2="490.84" y2="457.7" stroke="#e2712c" stroke-width="1.0"/>
<line x1="512.29" y1="473.62" x2="512.29" y2="457.2" stroke="#e2712c" stroke-width="1.0"/>
<line x1="510.79" y1="457.2" x2="513.79" y2="457.2" stroke="#e2712c" stroke-width="1.0"/>
<line x1="334.38" y1="509.03" x2="334.38" y2="506" stroke="#6cbd40" stroke-width="1.0"/>
<line x1="332.88" y1="506" x2="335.88" y2="506" stroke="#6cbd40" stroke-width="1.0"/>
<line x1="351.6" y1="520.96" x2="351.6" y2="518" stroke="#6cbd40" stroke-width="1.0"/>
<line x1="350.1" y1="518" x2="353.1" y2="518" stroke="#6cbd40" stroke-width="1.0"/>
<line x1="368.82" y1="509.53" x2="368.82" y2="505" stroke="#6cbd40" stroke-width="1.0"/>
<line x1="367.32" y1="505" x2="370.32" y2="505" stroke="#6cbd40" stroke-width="1.0"/>
<line x1="391.77" y1="479.72" x2="391.77" y2="474" stroke="#6cbd40" stroke-width="1.0"/>
<line x1="390.27" y1="474" x2="393.27" y2="474" stroke="#6cbd40" stroke-width="1.0"/>
<line x1="408.99" y1="466.4" x2="408.99" y2="460" stroke="#6cbd40" stroke-width="1.0"/>
<line x1="407.49" y1="460" x2="410.49" y2="460" stroke="#6cbd40" stroke-width="1.0"/>
<line x1="431.95" y1="466.28" x2="431.95" y2="460" stroke="#6cbd40" stroke-width="1.0"/>
<line x1="430.45" y1="460" x2="433.45" y2="460" stroke="#6cbd40" stroke-width="1.0"/>
<line x1="449.16" y1="451.97" x2="449.16" y2="446" stroke="#6cbd40" stroke-width="1.0"/>
<line x1="447.66" y1="446" x2="450.66" y2="446" stroke="#6cbd40" stroke-width="1.0"/>
<line x1="472.12" y1="474.08" x2="472.12" y2="469" stroke="#6cbd40" stroke-width="1.0"/>
<line x1="470.62" y1="469" x2="473.62" y2="469" stroke="#6cbd40" stroke-width="1.0"/>
<line x1="489.34" y1="489.62" x2="489.34" y2="482" stroke="#6cbd40" stroke-width="1.0"/>
<line x1="487.84" y1="482" x2="490.84" y2="482" stroke="#6cbd40" stroke-width="1.0"/>
<line x1="512.29" y1="508.54" x2="512.29" y2="505" stroke="#6cbd40" stroke-width="1.0"/>
<line x1="510.79" y1="505" x2="513.79" y2="505" stroke="#6cbd40" stroke-width="1.0"/>
<line x1="334.38" y1="519.01" x2="334.38" y2="516" stroke="#1f1fc0" stroke-width="1.0"/>
<line x1="332.88" y1="516" x2="335.88" y2="516" stroke="#1f1fc0" stroke-width="1.0"/>
<line x1="351.6" y1="513.25" x2="351.6" y2="510" stroke="#1f1fc0" stroke-width="1.0"/>
<line x1="350.1" y1="510" x2="353.1" y2="510" stroke="#1f1fc0" stroke-width="1.0"/>
<line x1="368.82" y1="471.93" x2="368.82" y2="456.4" stroke="#1f1fc0" stroke-width="1.0"/>
<line x1="367.32" y1="456.4" x2="370.32" y2="456.4" stroke="#1f1fc0" stroke-width="1.0"/>
<line x1="391.77" y1="474.39" x2="391.77" y2="470" stroke="#1f1fc0" stroke-width="1.0"/>
<line x1="390.27" y1="470" x2="393.27" y2="470" stroke="#1f1fc0" stroke-width="1.0"/>
<line x1="408.99" y1="428.26" x2="408.99" y2="415.5" stroke="#1f1fc0" stroke-width="1.0"/>
<line x1="407.49" y1="415.5" x2="410.49" y2="415.5" stroke="#1f1fc0" stroke-width="1.0"/>
<line x1="431.95" y1="471.51" x2="431.95" y2="458.5" stroke="#1f1fc0" stroke-width="1.0"/>
<line x1="430.45" y1="458.5" x2="433.45" y2="458.5" stroke="#1f1fc0" stroke-width="1.0"/>
<line x1="449.16" y1="446.88" x2="449.16" y2="435.2" stroke="#1f1fc0" stroke-width="1.0"/>
<line x1="447.66" y1="435.2" x2="450.66" y2="435.2" stroke="#1f1fc0" stroke-width="1.0"/>
<line x1="472.12" y1="451.49" x2="472.12" y2="439.6" stroke="#1f1fc0" stroke-width="1.0"/>
<line x1="470.62" y1="439.6" x2="473.62" y2="439.6" stroke="#1f1fc0" stroke-width="1.0"/>
<line x1="489.34" y1="478.01" x2="489.34" y2="468" stroke="#1f1fc0" stroke-width="1.0"/>
<line x1="487.84" y1="468" x2="490.84" y2="468" stroke="#1f1fc0" stroke-width="1.0"/>
<line x1="512.29" y1="502.04" x2="512.29" y2="498" stroke="#1f1fc0" stroke-width="1.0"/>
<line x1="510.79" y1="498" x2="513.79" y2="498" stroke="#1f1fc0" stroke-width="1.0"/>
<line x1="334.38" y1="517.02" x2="334.38" y2="513" stroke="#000" stroke-width="1.0"/>
<line x1="332.88" y1="513" x2="335.88" y2="513" stroke="#000" stroke-width="1.0"/>
<line x1="351.6" y1="513.54" x2="351.6" y2="511" stroke="#000" stroke-width="1.0"/>
<line x1="350.1" y1="511" x2="353.1" y2="511" stroke="#000" stroke-width="1.0"/>
<line x1="368.82" y1="534.62" x2="368.82" y2="525.3" stroke="#000" stroke-width="1.0"/>
<line x1="367.32" y1="525.3" x2="370.32" y2="525.3" stroke="#000" stroke-width="1.0"/>
<line x1="391.77" y1="509.78" x2="391.77" y2="502.3" stroke="#000" stroke-width="1.0"/>
<line x1="390.27" y1="502.3" x2="393.27" y2="502.3" stroke="#000" stroke-width="1.0"/>
<line x1="408.99" y1="515.91" x2="408.99" y2="501.5" stroke="#000" stroke-width="1.0"/>
<line x1="407.49" y1="501.5" x2="410.49" y2="501.5" stroke="#000" stroke-width="1.0"/>
<line x1="431.95" y1="526.57" x2="431.95" y2="516.9" stroke="#000" stroke-width="1.0"/>
<line x1="430.45" y1="516.9" x2="433.45" y2="516.9" stroke="#000" stroke-width="1.0"/>
<line x1="449.16" y1="498.21" x2="449.16" y2="489.6" stroke="#000" stroke-width="1.0"/>
<line x1="447.66" y1="489.6" x2="450.66" y2="489.6" stroke="#000" stroke-width="1.0"/>
<line x1="472.12" y1="503.44" x2="472.12" y2="496.9" stroke="#000" stroke-width="1.0"/>
<line x1="470.62" y1="496.9" x2="473.62" y2="496.9" stroke="#000" stroke-width="1.0"/>
<line x1="489.34" y1="504.69" x2="489.34" y2="499.5" stroke="#000" stroke-width="1.0"/>
<line x1="487.84" y1="499.5" x2="490.84" y2="499.5" stroke="#000" stroke-width="1.0"/>
<line x1="512.29" y1="515" x2="512.29" y2="509" stroke="#000" stroke-width="1.0"/>
<line x1="510.79" y1="509" x2="513.79" y2="509" stroke="#000" stroke-width="1.0"/>
<polyline points="334.38,528.39 351.6,505.99 368.82,500.34 391.77,471.37 408.99,451.86 431.95,448.08 449.16,429.45 472.12,455.88 489.34,466.28 512.29,473.62" fill="none" stroke="#e2712c" stroke-width="1.35" stroke-linejoin="round"/>
<rect x="331.23" y="525.24" width="6.3" height="6.3" fill="#e2712c"/>
<rect x="348.45" y="502.84" width="6.3" height="6.3" fill="#e2712c"/>
<rect x="365.67" y="497.19" width="6.3" height="6.3" fill="#e2712c"/>
<rect x="388.62" y="468.22" width="6.3" height="6.3" fill="#e2712c"/>
<rect x="405.84" y="448.71" width="6.3" height="6.3" fill="#e2712c"/>
<rect x="428.8" y="444.93" width="6.3" height="6.3" fill="#e2712c"/>
<rect x="446.01" y="426.3" width="6.3" height="6.3" fill="#e2712c"/>
<rect x="468.97" y="452.73" width="6.3" height="6.3" fill="#e2712c"/>
<rect x="486.19" y="463.13" width="6.3" height="6.3" fill="#e2712c"/>
<rect x="509.14" y="470.47" width="6.3" height="6.3" fill="#e2712c"/>
<polyline points="334.38,509.03 351.6,520.96 368.82,509.53 391.77,479.72 408.99,466.4 431.95,466.28 449.16,451.97 472.12,474.08 489.34,489.62 512.29,508.54" fill="none" stroke="#6cbd40" stroke-width="1.35" stroke-linejoin="round"/>
<polygon points="334.38,513.27 330.78,506.43 337.98,506.43" fill="#6cbd40"/>
<polygon points="351.6,525.2 348,518.36 355.2,518.36" fill="#6cbd40"/>
<polygon points="368.82,513.77 365.22,506.93 372.42,506.93" fill="#6cbd40"/>
<polygon points="391.77,483.96 388.17,477.12 395.37,477.12" fill="#6cbd40"/>
<polygon points="408.99,470.64 405.39,463.8 412.59,463.8" fill="#6cbd40"/>
<polygon points="431.95,470.52 428.35,463.68 435.55,463.68" fill="#6cbd40"/>
<polygon points="449.16,456.21 445.56,449.37 452.76,449.37" fill="#6cbd40"/>
<polygon points="472.12,478.32 468.52,471.48 475.72,471.48" fill="#6cbd40"/>
<polygon points="489.34,493.86 485.74,487.02 492.94,487.02" fill="#6cbd40"/>
<polygon points="512.29,512.79 508.69,505.95 515.89,505.95" fill="#6cbd40"/>
<polyline points="334.38,519.01 351.6,513.25 368.82,471.93 391.77,474.39 408.99,428.26 431.95,471.51 449.16,446.88 472.12,451.49 489.34,478.01 512.29,502.04" fill="none" stroke="#1f1fc0" stroke-width="1.35" stroke-linejoin="round"/>
<polygon points="334.38,514.77 330.78,521.61 337.98,521.61" fill="#1f1fc0"/>
<polygon points="351.6,509.01 348,515.85 355.2,515.85" fill="#1f1fc0"/>
<polygon points="368.82,467.69 365.22,474.53 372.42,474.53" fill="#1f1fc0"/>
<polygon points="391.77,470.15 388.17,476.99 395.37,476.99" fill="#1f1fc0"/>
<polygon points="408.99,424.02 405.39,430.86 412.59,430.86" fill="#1f1fc0"/>
<polygon points="431.95,467.27 428.35,474.11 435.55,474.11" fill="#1f1fc0"/>
<polygon points="449.16,442.64 445.56,449.48 452.76,449.48" fill="#1f1fc0"/>
<polygon points="472.12,447.25 468.52,454.09 475.72,454.09" fill="#1f1fc0"/>
<polygon points="489.34,473.77 485.74,480.61 492.94,480.61" fill="#1f1fc0"/>
<polygon points="512.29,497.8 508.69,504.64 515.89,504.64" fill="#1f1fc0"/>
<polyline points="334.38,517.02 351.6,513.54 368.82,534.62 391.77,509.78 408.99,515.91 431.95,526.57 449.16,498.21 472.12,503.44 489.34,504.69 512.29,515" fill="none" stroke="#000" stroke-width="1.35" stroke-linejoin="round"/>
<circle cx="334.38" cy="517.02" r="3.1" fill="#000"/>
<circle cx="351.6" cy="513.54" r="3.1" fill="#000"/>
<circle cx="368.82" cy="534.62" r="3.1" fill="#000"/>
<circle cx="391.77" cy="509.78" r="3.1" fill="#000"/>
<circle cx="408.99" cy="515.91" r="3.1" fill="#000"/>
<circle cx="431.95" cy="526.57" r="3.1" fill="#000"/>
<circle cx="449.16" cy="498.21" r="3.1" fill="#000"/>
<circle cx="472.12" cy="503.44" r="3.1" fill="#000"/>
<circle cx="489.34" cy="504.69" r="3.1" fill="#000"/>
<circle cx="512.29" cy="515" r="3.1" fill="#000"/>
<rect x="349.4" y="368.5" width="159" height="27.8" fill="#fff" stroke="#333" stroke-width="1.2"/>
<line x1="356.4" y1="377.4" x2="371.1" y2="377.4" stroke="#000" stroke-width="1.1"/>
<circle cx="363.75" cy="377.4" r="2.5" fill="#000"/>
<text x="375.2" y="380.4" font-size="11.3" fill="#111"  stroke="#111" stroke-width="0.2">control</text>
<line x1="356.4" y1="388.1" x2="371.1" y2="388.1" stroke="#1f1fc0" stroke-width="1.1"/>
<polygon points="363.75,384.57 360.75,390.27 366.75,390.27" fill="#1f1fc0"/>
<text x="375.2" y="391.7" font-size="11.3" fill="#111" word-spacing="0.6" stroke="#111" stroke-width="0.2">3 on 4 off</text>
<line x1="432.4" y1="376.5" x2="447.4" y2="376.5" stroke="#6cbd40" stroke-width="1.1"/>
<polygon points="439.9,380.03 436.9,374.33 442.9,374.33" fill="#6cbd40"/>
<text x="450.4" y="380.4" font-size="11.3" fill="#111" word-spacing="0.6" stroke="#111" stroke-width="0.2">1 on 1 off</text>
<line x1="432.4" y1="387.8" x2="447.4" y2="387.8" stroke="#e2712c" stroke-width="1.1"/>
<rect x="437.56" y="385.46" width="4.68" height="4.68" fill="#e2712c"/>
<text x="450.4" y="391.7" font-size="11.3" fill="#111" word-spacing="0.6" stroke="#111" stroke-width="0.2">5 on 2 off</text>
<polygon points="368.82,443.8 369.46,445.52 371.29,445.6 369.86,446.74 370.35,448.5 368.82,447.49 367.29,448.5 367.78,446.74 366.34,445.6 368.18,445.52" fill="#e2712c"/>
<polygon points="363.92,449.3 364.56,451.02 366.39,451.1 364.96,452.24 365.45,454 363.92,452.99 362.39,454 362.88,452.24 361.44,451.1 363.28,451.02" fill="#1f1fc0"/>
<polygon points="368.82,449.3 369.46,451.02 371.29,451.1 369.86,452.24 370.35,454 368.82,452.99 367.29,454 367.78,452.24 366.34,451.1 368.18,451.02" fill="#1f1fc0"/>
<polygon points="373.72,449.3 374.36,451.02 376.19,451.1 374.76,452.24 375.25,454 373.72,452.99 372.19,454 372.68,452.24 371.24,451.1 373.08,451.02" fill="#1f1fc0"/>
<polygon points="391.77,443.8 392.41,445.52 394.25,445.6 392.81,446.74 393.3,448.5 391.77,447.49 390.24,448.5 390.73,446.74 389.3,445.6 391.13,445.52" fill="#e2712c"/>
<polygon points="391.77,449.3 392.41,451.02 394.25,451.1 392.81,452.24 393.3,454 391.77,452.99 390.24,454 390.73,452.24 389.3,451.1 391.13,451.02" fill="#1f1fc0"/>
<polygon points="404.09,399.9 404.73,401.62 406.56,401.7 405.13,402.84 405.62,404.6 404.09,403.59 402.56,404.6 403.05,402.84 401.62,401.7 403.45,401.62" fill="#e2712c"/>
<polygon points="408.99,399.9 409.63,401.62 411.46,401.7 410.03,402.84 410.52,404.6 408.99,403.59 407.46,404.6 407.95,402.84 406.52,401.7 408.35,401.62" fill="#e2712c"/>
<polygon points="413.89,399.9 414.53,401.62 416.36,401.7 414.93,402.84 415.42,404.6 413.89,403.59 412.36,404.6 412.85,402.84 411.42,401.7 413.25,401.62" fill="#e2712c"/>
<polygon points="406.54,404.4 407.18,406.12 409.01,406.2 407.58,407.34 408.07,409.1 406.54,408.09 405.01,409.1 405.5,407.34 404.07,406.2 405.9,406.12" fill="#6cbd40"/>
<polygon points="411.44,404.4 412.08,406.12 413.91,406.2 412.48,407.34 412.97,409.1 411.44,408.09 409.91,409.1 410.4,407.34 408.97,406.2 410.8,406.12" fill="#6cbd40"/>
<polygon points="404.09,409.2 404.73,410.92 406.56,411 405.13,412.14 405.62,413.9 404.09,412.89 402.56,413.9 403.05,412.14 401.62,411 403.45,410.92" fill="#1f1fc0"/>
<polygon points="408.99,409.2 409.63,410.92 411.46,411 410.03,412.14 410.52,413.9 408.99,412.89 407.46,413.9 407.95,412.14 406.52,411 408.35,410.92" fill="#1f1fc0"/>
<polygon points="413.89,409.2 414.53,410.92 416.36,411 414.93,412.14 415.42,413.9 413.89,412.89 412.36,413.9 412.85,412.14 411.42,411 413.25,410.92" fill="#1f1fc0"/>
<polygon points="427.05,418.3 427.69,420.02 429.52,420.1 428.08,421.24 428.57,423 427.05,421.99 425.52,423 426.01,421.24 424.57,420.1 426.4,420.02" fill="#e2712c"/>
<polygon points="431.95,418.3 432.59,420.02 434.42,420.1 432.98,421.24 433.47,423 431.95,421.99 430.42,423 430.91,421.24 429.47,420.1 431.3,420.02" fill="#e2712c"/>
<polygon points="436.85,418.3 437.49,420.02 439.32,420.1 437.88,421.24 438.37,423 436.85,421.99 435.32,423 435.81,421.24 434.37,420.1 436.2,420.02" fill="#e2712c"/>
<polygon points="427.05,423 427.69,424.72 429.52,424.8 428.08,425.94 428.57,427.7 427.05,426.69 425.52,427.7 426.01,425.94 424.57,424.8 426.4,424.72" fill="#6cbd40"/>
<polygon points="431.95,423 432.59,424.72 434.42,424.8 432.98,425.94 433.47,427.7 431.95,426.69 430.42,427.7 430.91,425.94 429.47,424.8 431.3,424.72" fill="#6cbd40"/>
<polygon points="436.85,423 437.49,424.72 439.32,424.8 437.88,425.94 438.37,427.7 436.85,426.69 435.32,427.7 435.81,425.94 434.37,424.8 436.2,424.72" fill="#6cbd40"/>
<polygon points="427.05,427.9 427.69,429.62 429.52,429.7 428.08,430.84 428.57,432.6 427.05,431.59 425.52,432.6 426.01,430.84 424.57,429.7 426.4,429.62" fill="#1f1fc0"/>
<polygon points="431.95,427.9 432.59,429.62 434.42,429.7 432.98,430.84 433.47,432.6 431.95,431.59 430.42,432.6 430.91,430.84 429.47,429.7 431.3,429.62" fill="#1f1fc0"/>
<polygon points="436.85,427.9 437.49,429.62 439.32,429.7 437.88,430.84 438.37,432.6 436.85,431.59 435.32,432.6 435.81,430.84 434.37,429.7 436.2,429.62" fill="#1f1fc0"/>
<polygon points="444.26,404.1 444.9,405.82 446.74,405.9 445.3,407.04 445.79,408.8 444.26,407.79 442.73,408.8 443.22,407.04 441.79,405.9 443.62,405.82" fill="#e2712c"/>
<polygon points="449.16,404.1 449.8,405.82 451.64,405.9 450.2,407.04 450.69,408.8 449.16,407.79 447.63,408.8 448.12,407.04 446.69,405.9 448.52,405.82" fill="#e2712c"/>
<polygon points="454.06,404.1 454.7,405.82 456.54,405.9 455.1,407.04 455.59,408.8 454.06,407.79 452.53,408.8 453.02,407.04 451.59,405.9 453.42,405.82" fill="#e2712c"/>
<polygon points="446.71,409 447.35,410.72 449.19,410.8 447.75,411.94 448.24,413.7 446.71,412.69 445.18,413.7 445.67,411.94 444.24,410.8 446.07,410.72" fill="#6cbd40"/>
<polygon points="451.61,409 452.25,410.72 454.09,410.8 452.65,411.94 453.14,413.7 451.61,412.69 450.08,413.7 450.57,411.94 449.14,410.8 450.97,410.72" fill="#6cbd40"/>
<polygon points="444.26,413.7 444.9,415.42 446.74,415.5 445.3,416.64 445.79,418.4 444.26,417.39 442.73,418.4 443.22,416.64 441.79,415.5 443.62,415.42" fill="#1f1fc0"/>
<polygon points="449.16,413.7 449.8,415.42 451.64,415.5 450.2,416.64 450.69,418.4 449.16,417.39 447.63,418.4 448.12,416.64 446.69,415.5 448.52,415.42" fill="#1f1fc0"/>
<polygon points="454.06,413.7 454.7,415.42 456.54,415.5 455.1,416.64 455.59,418.4 454.06,417.39 452.53,418.4 453.02,416.64 451.59,415.5 453.42,415.42" fill="#1f1fc0"/>
<polygon points="469.67,426.9 470.31,428.62 472.14,428.7 470.71,429.84 471.2,431.6 469.67,430.59 468.14,431.6 468.63,429.84 467.2,428.7 469.03,428.62" fill="#e2712c"/>
<polygon points="474.57,426.9 475.21,428.62 477.04,428.7 475.61,429.84 476.1,431.6 474.57,430.59 473.04,431.6 473.53,429.84 472.1,428.7 473.93,428.62" fill="#e2712c"/>
<polygon points="467.22,432.6 467.86,434.32 469.69,434.4 468.26,435.54 468.75,437.3 467.22,436.29 465.69,437.3 466.18,435.54 464.75,434.4 466.58,434.32" fill="#1f1fc0"/>
<polygon points="472.12,432.6 472.76,434.32 474.59,434.4 473.16,435.54 473.65,437.3 472.12,436.29 470.59,437.3 471.08,435.54 469.65,434.4 471.48,434.32" fill="#1f1fc0"/>
<polygon points="477.02,432.6 477.66,434.32 479.49,434.4 478.06,435.54 478.55,437.3 477.02,436.29 475.49,437.3 475.98,435.54 474.55,434.4 476.38,434.32" fill="#1f1fc0"/>
<polygon points="489.34,449.4 489.98,451.12 491.81,451.2 490.37,452.34 490.86,454.1 489.34,453.09 487.81,454.1 488.3,452.34 486.86,451.2 488.69,451.12" fill="#e2712c"/>
<polygon points="512.29,449.4 512.93,451.12 514.76,451.2 513.33,452.34 513.82,454.1 512.29,453.09 510.76,454.1 511.25,452.34 509.82,451.2 511.65,451.12" fill="#e2712c"/>
<text x="84.6" y="390.6" font-size="11.5" fill="#111"  stroke="#111" stroke-width="0.2">Day:</text>
<text x="117.6" y="390.6" font-size="11.0" text-anchor="middle" fill="#111"  stroke="#111" stroke-width="0.2">-3</text>
<text x="132.8" y="390.6" font-size="11.0" text-anchor="middle" fill="#111"  stroke="#111" stroke-width="0.2">0</text>
<text x="147" y="390.6" font-size="11.0" text-anchor="middle" fill="#111"  stroke="#111" stroke-width="0.2">3</text>
<text x="161.2" y="390.6" font-size="11.0" text-anchor="middle" fill="#111"  stroke="#111" stroke-width="0.2">7</text>
<text x="175.4" y="390.6" font-size="11.0" text-anchor="middle" fill="#111"  stroke="#111" stroke-width="0.2">10</text>
<text x="189.6" y="390.6" font-size="11.0" text-anchor="middle" fill="#111"  stroke="#111" stroke-width="0.2">14</text>
<text x="203.8" y="390.6" font-size="11.0" text-anchor="middle" fill="#111"  stroke="#111" stroke-width="0.2">17</text>
<text x="218" y="390.6" font-size="11.0" text-anchor="middle" fill="#111"  stroke="#111" stroke-width="0.2">21</text>
<text x="232.2" y="390.6" font-size="11.0" text-anchor="middle" fill="#111"  stroke="#111" stroke-width="0.2">24</text>
<text x="246.4" y="390.6" font-size="11.0" text-anchor="middle" fill="#111"  stroke="#111" stroke-width="0.2">28</text>
<defs>
<filter id="bl" x="-50%" y="-150%" width="200%" height="400%"><feGaussianBlur stdDeviation="1.0"/></filter>
<filter id="bl2" x="-50%" y="-150%" width="200%" height="400%"><feGaussianBlur stdDeviation="2.0"/></filter>
<linearGradient id="gg" x1="0" y1="0" x2="0" y2="1">
<stop offset="0" stop-color="#060606"/><stop offset="0.16" stop-color="#181818"/><stop offset="0.42" stop-color="#2c2c2c"/><stop offset="0.75" stop-color="#2a2a2a"/><stop offset="1" stop-color="#0e0e0e"/>
</linearGradient>
</defs>
<rect x="109.5" y="393.4" width="145.7" height="17.2" fill="url(#gg)"/>
<rect x="109.5" y="410.6" width="145.7" height="1.3" fill="#a4a4a4"/>
<rect x="109.5" y="411.9" width="145.7" height="16.3" fill="url(#gg)"/>
<rect x="112.4" y="399.5" width="14.0" height="8.4" rx="4" fill="#fff" fill-opacity="0.08" filter="url(#bl2)"/>
<rect x="113.8" y="401.5" width="11.2" height="4.4" rx="2.2" fill="#fff" fill-opacity="0.14" filter="url(#bl)"/>
<rect x="112.5" y="417.8" width="13.8" height="6.4" rx="3" fill="#fff" fill-opacity="0.32" filter="url(#bl2)"/>
<rect x="112.9" y="419.2" width="13.0" height="3.6" rx="1.8" fill="#fff" fill-opacity="0.8" filter="url(#bl)"/>
<rect x="126.6" y="399.5" width="14.0" height="8.4" rx="4" fill="#fff" fill-opacity="0.07" filter="url(#bl2)"/>
<rect x="128" y="401.5" width="11.2" height="4.4" rx="2.2" fill="#fff" fill-opacity="0.12" filter="url(#bl)"/>
<rect x="126.7" y="417.8" width="13.8" height="6.4" rx="3" fill="#fff" fill-opacity="0.34" filter="url(#bl2)"/>
<rect x="127.1" y="419.2" width="13.0" height="3.6" rx="1.8" fill="#fff" fill-opacity="0.85" filter="url(#bl)"/>
<rect x="140.8" y="399.5" width="14.0" height="8.4" rx="4" fill="#fff" fill-opacity="0.08" filter="url(#bl2)"/>
<rect x="142.2" y="401.5" width="11.2" height="4.4" rx="2.2" fill="#fff" fill-opacity="0.14" filter="url(#bl)"/>
<rect x="140.9" y="417.8" width="13.8" height="6.4" rx="3" fill="#fff" fill-opacity="0.34" filter="url(#bl2)"/>
<rect x="141.3" y="419.2" width="13.0" height="3.6" rx="1.8" fill="#fff" fill-opacity="0.85" filter="url(#bl)"/>
<rect x="155" y="399.5" width="14.0" height="8.4" rx="4" fill="#fff" fill-opacity="0.09" filter="url(#bl2)"/>
<rect x="156.4" y="401.5" width="11.2" height="4.4" rx="2.2" fill="#fff" fill-opacity="0.15" filter="url(#bl)"/>
<rect x="155.1" y="417.8" width="13.8" height="6.4" rx="3" fill="#fff" fill-opacity="0.3" filter="url(#bl2)"/>
<rect x="155.5" y="419.2" width="13.0" height="3.6" rx="1.8" fill="#fff" fill-opacity="0.75" filter="url(#bl)"/>
<rect x="169.2" y="399.5" width="14.0" height="8.4" rx="4" fill="#fff" fill-opacity="0.16" filter="url(#bl2)"/>
<rect x="170.6" y="401.5" width="11.2" height="4.4" rx="2.2" fill="#fff" fill-opacity="0.27" filter="url(#bl)"/>
<rect x="169.3" y="417.8" width="13.8" height="6.4" rx="3" fill="#fff" fill-opacity="0.38" filter="url(#bl2)"/>
<rect x="169.7" y="419.2" width="13.0" height="3.6" rx="1.8" fill="#fff" fill-opacity="0.95" filter="url(#bl)"/>
<rect x="183.4" y="399.5" width="14.0" height="8.4" rx="4" fill="#fff" fill-opacity="0.08" filter="url(#bl2)"/>
<rect x="184.8" y="401.5" width="11.2" height="4.4" rx="2.2" fill="#fff" fill-opacity="0.14" filter="url(#bl)"/>
<rect x="183.5" y="417.8" width="13.8" height="6.4" rx="3" fill="#fff" fill-opacity="0.32" filter="url(#bl2)"/>
<rect x="183.9" y="419.2" width="13.0" height="3.6" rx="1.8" fill="#fff" fill-opacity="0.8" filter="url(#bl)"/>
<rect x="197.6" y="399.5" width="14.0" height="8.4" rx="4" fill="#fff" fill-opacity="0.09" filter="url(#bl2)"/>
<rect x="199" y="401.5" width="11.2" height="4.4" rx="2.2" fill="#fff" fill-opacity="0.15" filter="url(#bl)"/>
<rect x="197.7" y="417.8" width="13.8" height="6.4" rx="3" fill="#fff" fill-opacity="0.32" filter="url(#bl2)"/>
<rect x="198.1" y="419.2" width="13.0" height="3.6" rx="1.8" fill="#fff" fill-opacity="0.8" filter="url(#bl)"/>
<rect x="211.8" y="399.5" width="14.0" height="8.4" rx="4" fill="#fff" fill-opacity="0.13" filter="url(#bl2)"/>
<rect x="213.2" y="401.5" width="11.2" height="4.4" rx="2.2" fill="#fff" fill-opacity="0.22" filter="url(#bl)"/>
<rect x="211.9" y="417.8" width="13.8" height="6.4" rx="3" fill="#fff" fill-opacity="0.36" filter="url(#bl2)"/>
<rect x="212.3" y="419.2" width="13.0" height="3.6" rx="1.8" fill="#fff" fill-opacity="0.9" filter="url(#bl)"/>
<rect x="226" y="399.5" width="14.0" height="8.4" rx="4" fill="#fff" fill-opacity="0.12" filter="url(#bl2)"/>
<rect x="227.4" y="401.5" width="11.2" height="4.4" rx="2.2" fill="#fff" fill-opacity="0.2" filter="url(#bl)"/>
<rect x="226.1" y="417.8" width="13.8" height="6.4" rx="3" fill="#fff" fill-opacity="0.34" filter="url(#bl2)"/>
<rect x="226.5" y="419.2" width="13.0" height="3.6" rx="1.8" fill="#fff" fill-opacity="0.85" filter="url(#bl)"/>
<rect x="240.2" y="399.5" width="14.0" height="8.4" rx="4" fill="#fff" fill-opacity="0.07" filter="url(#bl2)"/>
<rect x="241.6" y="401.5" width="11.2" height="4.4" rx="2.2" fill="#fff" fill-opacity="0.12" filter="url(#bl)"/>
<rect x="240.3" y="417.8" width="13.8" height="6.4" rx="3" fill="#fff" fill-opacity="0.3" filter="url(#bl2)"/>
<rect x="240.7" y="419.2" width="13.0" height="3.6" rx="1.8" fill="#fff" fill-opacity="0.75" filter="url(#bl)"/>
<text x="108.2" y="406.8" font-size="11.3" text-anchor="end" fill="#111"  stroke="#111" stroke-width="0.2">H3K56ac</text>
<text x="108.2" y="424" font-size="11.3" text-anchor="end" fill="#111"  stroke="#111" stroke-width="0.2">total H4</text>
<line x1="60.7" y1="396.4" x2="60.7" y2="427.9" stroke="#333" stroke-width="1.0"/>
<rect x="109.5" y="433" width="145.7" height="17.2" fill="url(#gg)"/>
<rect x="109.5" y="450.2" width="145.7" height="1.3" fill="#a4a4a4"/>
<rect x="109.5" y="451.5" width="145.7" height="16.3" fill="url(#gg)"/>
<rect x="112.4" y="439.1" width="14.0" height="8.4" rx="4" fill="#fff" fill-opacity="0.06" filter="url(#bl2)"/>
<rect x="113.8" y="441.1" width="11.2" height="4.4" rx="2.2" fill="#fff" fill-opacity="0.1" filter="url(#bl)"/>
<rect x="112.5" y="456" width="13.8" height="6.4" rx="3" fill="#fff" fill-opacity="0.36" filter="url(#bl2)"/>
<rect x="112.9" y="457.4" width="13.0" height="3.6" rx="1.8" fill="#fff" fill-opacity="0.9" filter="url(#bl)"/>
<rect x="126.6" y="439.1" width="14.0" height="8.4" rx="4" fill="#fff" fill-opacity="0.06" filter="url(#bl2)"/>
<rect x="128" y="441.1" width="11.2" height="4.4" rx="2.2" fill="#fff" fill-opacity="0.1" filter="url(#bl)"/>
<rect x="126.7" y="456" width="13.8" height="6.4" rx="3" fill="#fff" fill-opacity="0.36" filter="url(#bl2)"/>
<rect x="127.1" y="457.4" width="13.0" height="3.6" rx="1.8" fill="#fff" fill-opacity="0.9" filter="url(#bl)"/>
<rect x="140.8" y="439.1" width="14.0" height="8.4" rx="4" fill="#fff" fill-opacity="0.28" filter="url(#bl2)"/>
<rect x="142.2" y="441.1" width="11.2" height="4.4" rx="2.2" fill="#fff" fill-opacity="0.47" filter="url(#bl)"/>
<rect x="140.9" y="456" width="13.8" height="6.4" rx="3" fill="#fff" fill-opacity="0.34" filter="url(#bl2)"/>
<rect x="141.3" y="457.4" width="13.0" height="3.6" rx="1.8" fill="#fff" fill-opacity="0.85" filter="url(#bl)"/>
<rect x="155" y="439.1" width="14.0" height="8.4" rx="4" fill="#fff" fill-opacity="0.19" filter="url(#bl2)"/>
<rect x="156.4" y="441.1" width="11.2" height="4.4" rx="2.2" fill="#fff" fill-opacity="0.32" filter="url(#bl)"/>
<rect x="155.1" y="456" width="13.8" height="6.4" rx="3" fill="#fff" fill-opacity="0.36" filter="url(#bl2)"/>
<rect x="155.5" y="457.4" width="13.0" height="3.6" rx="1.8" fill="#fff" fill-opacity="0.9" filter="url(#bl)"/>
<rect x="169.2" y="439.1" width="14.0" height="8.4" rx="4" fill="#fff" fill-opacity="0.47" filter="url(#bl2)"/>
<rect x="170.6" y="441.1" width="11.2" height="4.4" rx="2.2" fill="#fff" fill-opacity="0.81" filter="url(#bl)"/>
<rect x="169.3" y="456" width="13.8" height="6.4" rx="3" fill="#fff" fill-opacity="0.34" filter="url(#bl2)"/>
<rect x="169.7" y="457.4" width="13.0" height="3.6" rx="1.8" fill="#fff" fill-opacity="0.85" filter="url(#bl)"/>
<rect x="183.4" y="439.1" width="14.0" height="8.4" rx="4" fill="#fff" fill-opacity="0.08" filter="url(#bl2)"/>
<rect x="184.8" y="441.1" width="11.2" height="4.4" rx="2.2" fill="#fff" fill-opacity="0.14" filter="url(#bl)"/>
<rect x="183.5" y="456" width="13.8" height="6.4" rx="3" fill="#fff" fill-opacity="0.34" filter="url(#bl2)"/>
<rect x="183.9" y="457.4" width="13.0" height="3.6" rx="1.8" fill="#fff" fill-opacity="0.85" filter="url(#bl)"/>
<rect x="197.6" y="439.1" width="14.0" height="8.4" rx="4" fill="#fff" fill-opacity="0.16" filter="url(#bl2)"/>
<rect x="199" y="441.1" width="11.2" height="4.4" rx="2.2" fill="#fff" fill-opacity="0.27" filter="url(#bl)"/>
<rect x="197.7" y="456" width="13.8" height="6.4" rx="3" fill="#fff" fill-opacity="0.36" filter="url(#bl2)"/>
<rect x="198.1" y="457.4" width="13.0" height="3.6" rx="1.8" fill="#fff" fill-opacity="0.9" filter="url(#bl)"/>
<rect x="211.8" y="439.1" width="14.0" height="8.4" rx="4" fill="#fff" fill-opacity="0.21" filter="url(#bl2)"/>
<rect x="213.2" y="441.1" width="11.2" height="4.4" rx="2.2" fill="#fff" fill-opacity="0.36" filter="url(#bl)"/>
<rect x="211.9" y="456" width="13.8" height="6.4" rx="3" fill="#fff" fill-opacity="0.36" filter="url(#bl2)"/>
<rect x="212.3" y="457.4" width="13.0" height="3.6" rx="1.8" fill="#fff" fill-opacity="0.9" filter="url(#bl)"/>
<rect x="226" y="439.1" width="14.0" height="8.4" rx="4" fill="#fff" fill-opacity="0.2" filter="url(#bl2)"/>
<rect x="227.4" y="441.1" width="11.2" height="4.4" rx="2.2" fill="#fff" fill-opacity="0.34" filter="url(#bl)"/>
<rect x="226.1" y="456" width="13.8" height="6.4" rx="3" fill="#fff" fill-opacity="0.34" filter="url(#bl2)"/>
<rect x="226.5" y="457.4" width="13.0" height="3.6" rx="1.8" fill="#fff" fill-opacity="0.85" filter="url(#bl)"/>
<rect x="240.2" y="439.1" width="14.0" height="8.4" rx="4" fill="#fff" fill-opacity="0.1" filter="url(#bl2)"/>
<rect x="241.6" y="441.1" width="11.2" height="4.4" rx="2.2" fill="#fff" fill-opacity="0.17" filter="url(#bl)"/>
<rect x="240.3" y="456" width="13.8" height="6.4" rx="3" fill="#fff" fill-opacity="0.36" filter="url(#bl2)"/>
<rect x="240.7" y="457.4" width="13.0" height="3.6" rx="1.8" fill="#fff" fill-opacity="0.9" filter="url(#bl)"/>
<text x="108.2" y="446.3" font-size="11.3" text-anchor="end" fill="#111"  stroke="#111" stroke-width="0.2">H3K56ac</text>
<text x="108.2" y="463.8" font-size="11.3" text-anchor="end" fill="#111"  stroke="#111" stroke-width="0.2">total H4</text>
<line x1="60.7" y1="436" x2="60.7" y2="467.5" stroke="#333" stroke-width="1.0"/>
<rect x="109.5" y="473.1" width="145.7" height="17.2" fill="url(#gg)"/>
<rect x="109.5" y="490.3" width="145.7" height="1.3" fill="#a4a4a4"/>
<rect x="109.5" y="491.6" width="145.7" height="16.3" fill="url(#gg)"/>
<rect x="112.4" y="478.4" width="14.0" height="8.4" rx="4" fill="#fff" fill-opacity="0.1" filter="url(#bl2)"/>
<rect x="113.8" y="480.4" width="11.2" height="4.4" rx="2.2" fill="#fff" fill-opacity="0.17" filter="url(#bl)"/>
<rect x="112.5" y="495.6" width="13.8" height="6.4" rx="3" fill="#fff" fill-opacity="0.36" filter="url(#bl2)"/>
<rect x="112.9" y="497" width="13.0" height="3.6" rx="1.8" fill="#fff" fill-opacity="0.9" filter="url(#bl)"/>
<rect x="126.6" y="478.4" width="14.0" height="8.4" rx="4" fill="#fff" fill-opacity="0.18" filter="url(#bl2)"/>
<rect x="128" y="480.4" width="11.2" height="4.4" rx="2.2" fill="#fff" fill-opacity="0.31" filter="url(#bl)"/>
<rect x="126.7" y="495.6" width="13.8" height="6.4" rx="3" fill="#fff" fill-opacity="0.4" filter="url(#bl2)"/>
<rect x="127.1" y="497" width="13.0" height="3.6" rx="1.8" fill="#fff" fill-opacity="1" filter="url(#bl)"/>
<rect x="140.8" y="478.4" width="14.0" height="8.4" rx="4" fill="#fff" fill-opacity="0.15" filter="url(#bl2)"/>
<rect x="142.2" y="480.4" width="11.2" height="4.4" rx="2.2" fill="#fff" fill-opacity="0.26" filter="url(#bl)"/>
<rect x="140.9" y="495.6" width="13.8" height="6.4" rx="3" fill="#fff" fill-opacity="0.28" filter="url(#bl2)"/>
<rect x="141.3" y="497" width="13.0" height="3.6" rx="1.8" fill="#fff" fill-opacity="0.7" filter="url(#bl)"/>
<rect x="155" y="478.4" width="14.0" height="8.4" rx="4" fill="#fff" fill-opacity="0.23" filter="url(#bl2)"/>
<rect x="156.4" y="480.4" width="11.2" height="4.4" rx="2.2" fill="#fff" fill-opacity="0.38" filter="url(#bl)"/>
<rect x="155.1" y="495.6" width="13.8" height="6.4" rx="3" fill="#fff" fill-opacity="0.28" filter="url(#bl2)"/>
<rect x="155.5" y="497" width="13.0" height="3.6" rx="1.8" fill="#fff" fill-opacity="0.7" filter="url(#bl)"/>
<rect x="169.2" y="478.4" width="14.0" height="8.4" rx="4" fill="#fff" fill-opacity="0.4" filter="url(#bl2)"/>
<rect x="170.6" y="480.4" width="11.2" height="4.4" rx="2.2" fill="#fff" fill-opacity="0.68" filter="url(#bl)"/>
<rect x="169.3" y="495.6" width="13.8" height="6.4" rx="3" fill="#fff" fill-opacity="0.28" filter="url(#bl2)"/>
<rect x="169.7" y="497" width="13.0" height="3.6" rx="1.8" fill="#fff" fill-opacity="0.7" filter="url(#bl)"/>
<rect x="183.4" y="478.4" width="14.0" height="8.4" rx="4" fill="#fff" fill-opacity="0.5" filter="url(#bl2)"/>
<rect x="184.8" y="480.4" width="11.2" height="4.4" rx="2.2" fill="#fff" fill-opacity="0.85" filter="url(#bl)"/>
<rect x="183.5" y="495.6" width="13.8" height="6.4" rx="3" fill="#fff" fill-opacity="0.28" filter="url(#bl2)"/>
<rect x="183.9" y="497" width="13.0" height="3.6" rx="1.8" fill="#fff" fill-opacity="0.7" filter="url(#bl)"/>
<rect x="197.6" y="478.4" width="14.0" height="8.4" rx="4" fill="#fff" fill-opacity="0.2" filter="url(#bl2)"/>
<rect x="199" y="480.4" width="11.2" height="4.4" rx="2.2" fill="#fff" fill-opacity="0.34" filter="url(#bl)"/>
<rect x="197.7" y="495.6" width="13.8" height="6.4" rx="3" fill="#fff" fill-opacity="0.24" filter="url(#bl2)"/>
<rect x="198.1" y="497" width="13.0" height="3.6" rx="1.8" fill="#fff" fill-opacity="0.6" filter="url(#bl)"/>
<rect x="211.8" y="478.4" width="14.0" height="8.4" rx="4" fill="#fff" fill-opacity="0.45" filter="url(#bl2)"/>
<rect x="213.2" y="480.4" width="11.2" height="4.4" rx="2.2" fill="#fff" fill-opacity="0.77" filter="url(#bl)"/>
<rect x="211.9" y="495.6" width="13.8" height="6.4" rx="3" fill="#fff" fill-opacity="0.36" filter="url(#bl2)"/>
<rect x="212.3" y="497" width="13.0" height="3.6" rx="1.8" fill="#fff" fill-opacity="0.9" filter="url(#bl)"/>
<rect x="226" y="478.4" width="14.0" height="8.4" rx="4" fill="#fff" fill-opacity="0.29" filter="url(#bl2)"/>
<rect x="227.4" y="480.4" width="11.2" height="4.4" rx="2.2" fill="#fff" fill-opacity="0.49" filter="url(#bl)"/>
<rect x="226.1" y="495.6" width="13.8" height="6.4" rx="3" fill="#fff" fill-opacity="0.36" filter="url(#bl2)"/>
<rect x="226.5" y="497" width="13.0" height="3.6" rx="1.8" fill="#fff" fill-opacity="0.9" filter="url(#bl)"/>
<rect x="240.2" y="478.4" width="14.0" height="8.4" rx="4" fill="#fff" fill-opacity="0.12" filter="url(#bl2)"/>
<rect x="241.6" y="480.4" width="11.2" height="4.4" rx="2.2" fill="#fff" fill-opacity="0.2" filter="url(#bl)"/>
<rect x="240.3" y="495.6" width="13.8" height="6.4" rx="3" fill="#fff" fill-opacity="0.36" filter="url(#bl2)"/>
<rect x="240.7" y="497" width="13.0" height="3.6" rx="1.8" fill="#fff" fill-opacity="0.9" filter="url(#bl)"/>
<text x="108.2" y="485.8" font-size="11.3" text-anchor="end" fill="#111"  stroke="#111" stroke-width="0.2">H3K56ac</text>
<text x="108.2" y="503.4" font-size="11.3" text-anchor="end" fill="#111"  stroke="#111" stroke-width="0.2">total H4</text>
<line x1="60.7" y1="476.1" x2="60.7" y2="507.6" stroke="#333" stroke-width="1.0"/>
<rect x="109.5" y="513" width="145.7" height="17.2" fill="url(#gg)"/>
<rect x="109.5" y="530.2" width="145.7" height="1.3" fill="#a4a4a4"/>
<rect x="109.5" y="531.5" width="145.7" height="16.3" fill="url(#gg)"/>
<rect x="112.4" y="517.8" width="14.0" height="8.4" rx="4" fill="#fff" fill-opacity="0.03" filter="url(#bl2)"/>
<rect x="113.8" y="519.8" width="11.2" height="4.4" rx="2.2" fill="#fff" fill-opacity="0.05" filter="url(#bl)"/>
<rect x="112.5" y="536.4" width="13.8" height="6.4" rx="3" fill="#fff" fill-opacity="0.38" filter="url(#bl2)"/>
<rect x="112.9" y="537.8" width="13.0" height="3.6" rx="1.8" fill="#fff" fill-opacity="0.95" filter="url(#bl)"/>
<rect x="126.6" y="517.8" width="14.0" height="8.4" rx="4" fill="#fff" fill-opacity="0.03" filter="url(#bl2)"/>
<rect x="128" y="519.8" width="11.2" height="4.4" rx="2.2" fill="#fff" fill-opacity="0.05" filter="url(#bl)"/>
<rect x="126.7" y="536.4" width="13.8" height="6.4" rx="3" fill="#fff" fill-opacity="0.36" filter="url(#bl2)"/>
<rect x="127.1" y="537.8" width="13.0" height="3.6" rx="1.8" fill="#fff" fill-opacity="0.9" filter="url(#bl)"/>
<rect x="140.8" y="517.8" width="14.0" height="8.4" rx="4" fill="#fff" fill-opacity="0.03" filter="url(#bl2)"/>
<rect x="142.2" y="519.8" width="11.2" height="4.4" rx="2.2" fill="#fff" fill-opacity="0.05" filter="url(#bl)"/>
<rect x="140.9" y="536.4" width="13.8" height="6.4" rx="3" fill="#fff" fill-opacity="0.34" filter="url(#bl2)"/>
<rect x="141.3" y="537.8" width="13.0" height="3.6" rx="1.8" fill="#fff" fill-opacity="0.85" filter="url(#bl)"/>
<rect x="155" y="517.8" width="14.0" height="8.4" rx="4" fill="#fff" fill-opacity="0.21" filter="url(#bl2)"/>
<rect x="156.4" y="519.8" width="11.2" height="4.4" rx="2.2" fill="#fff" fill-opacity="0.36" filter="url(#bl)"/>
<rect x="155.1" y="536.4" width="13.8" height="6.4" rx="3" fill="#fff" fill-opacity="0.36" filter="url(#bl2)"/>
<rect x="155.5" y="537.8" width="13.0" height="3.6" rx="1.8" fill="#fff" fill-opacity="0.9" filter="url(#bl)"/>
<rect x="169.2" y="517.8" width="14.0" height="8.4" rx="4" fill="#fff" fill-opacity="0.21" filter="url(#bl2)"/>
<rect x="170.6" y="519.8" width="11.2" height="4.4" rx="2.2" fill="#fff" fill-opacity="0.36" filter="url(#bl)"/>
<rect x="169.3" y="536.4" width="13.8" height="6.4" rx="3" fill="#fff" fill-opacity="0.34" filter="url(#bl2)"/>
<rect x="169.7" y="537.8" width="13.0" height="3.6" rx="1.8" fill="#fff" fill-opacity="0.85" filter="url(#bl)"/>
<rect x="183.4" y="517.8" width="14.0" height="8.4" rx="4" fill="#fff" fill-opacity="0.21" filter="url(#bl2)"/>
<rect x="184.8" y="519.8" width="11.2" height="4.4" rx="2.2" fill="#fff" fill-opacity="0.36" filter="url(#bl)"/>
<rect x="183.5" y="536.4" width="13.8" height="6.4" rx="3" fill="#fff" fill-opacity="0.34" filter="url(#bl2)"/>
<rect x="183.9" y="537.8" width="13.0" height="3.6" rx="1.8" fill="#fff" fill-opacity="0.85" filter="url(#bl)"/>
<rect x="197.6" y="517.8" width="14.0" height="8.4" rx="4" fill="#fff" fill-opacity="0.42" filter="url(#bl2)"/>
<rect x="199" y="519.8" width="11.2" height="4.4" rx="2.2" fill="#fff" fill-opacity="0.72" filter="url(#bl)"/>
<rect x="197.7" y="536.4" width="13.8" height="6.4" rx="3" fill="#fff" fill-opacity="0.36" filter="url(#bl2)"/>
<rect x="198.1" y="537.8" width="13.0" height="3.6" rx="1.8" fill="#fff" fill-opacity="0.9" filter="url(#bl)"/>
<rect x="211.8" y="517.8" width="14.0" height="8.4" rx="4" fill="#fff" fill-opacity="0.23" filter="url(#bl2)"/>
<rect x="213.2" y="519.8" width="11.2" height="4.4" rx="2.2" fill="#fff" fill-opacity="0.38" filter="url(#bl)"/>
<rect x="211.9" y="536.4" width="13.8" height="6.4" rx="3" fill="#fff" fill-opacity="0.36" filter="url(#bl2)"/>
<rect x="212.3" y="537.8" width="13.0" height="3.6" rx="1.8" fill="#fff" fill-opacity="0.9" filter="url(#bl)"/>
<rect x="226" y="517.8" width="14.0" height="8.4" rx="4" fill="#fff" fill-opacity="0.15" filter="url(#bl2)"/>
<rect x="227.4" y="519.8" width="11.2" height="4.4" rx="2.2" fill="#fff" fill-opacity="0.26" filter="url(#bl)"/>
<rect x="226.1" y="536.4" width="13.8" height="6.4" rx="3" fill="#fff" fill-opacity="0.34" filter="url(#bl2)"/>
<rect x="226.5" y="537.8" width="13.0" height="3.6" rx="1.8" fill="#fff" fill-opacity="0.85" filter="url(#bl)"/>
<rect x="240.2" y="517.8" width="14.0" height="8.4" rx="4" fill="#fff" fill-opacity="0.06" filter="url(#bl2)"/>
<rect x="241.6" y="519.8" width="11.2" height="4.4" rx="2.2" fill="#fff" fill-opacity="0.1" filter="url(#bl)"/>
<rect x="240.3" y="536.4" width="13.8" height="6.4" rx="3" fill="#fff" fill-opacity="0.3" filter="url(#bl2)"/>
<rect x="240.7" y="537.8" width="13.0" height="3.6" rx="1.8" fill="#fff" fill-opacity="0.75" filter="url(#bl)"/>
<text x="108.2" y="525.3" font-size="11.3" text-anchor="end" fill="#111"  stroke="#111" stroke-width="0.2">H3K56ac</text>
<text x="108.2" y="543.2" font-size="11.3" text-anchor="end" fill="#111"  stroke="#111" stroke-width="0.2">total H4</text>
<line x1="60.7" y1="516" x2="60.7" y2="547.5" stroke="#333" stroke-width="1.0"/>
<text transform="translate(46,423) rotate(-45)" font-size="11.1" text-anchor="middle" fill="#111" stroke="#111" stroke-width="0.2">control</text>
<text transform="translate(42,470) rotate(-45)" font-size="11.1" text-anchor="middle" fill="#111" stroke="#111" stroke-width="0.2">3 on 4 off</text>
<text transform="translate(42.6,508) rotate(-45)" font-size="11.1" text-anchor="middle" fill="#111" stroke="#111" stroke-width="0.2">1 on 1 off</text>
<text transform="translate(41.6,547.2) rotate(-45)" font-size="11.1" text-anchor="middle" fill="#111" stroke="#111" stroke-width="0.2">5 on 2 off</text>
</svg>
</body></html>
